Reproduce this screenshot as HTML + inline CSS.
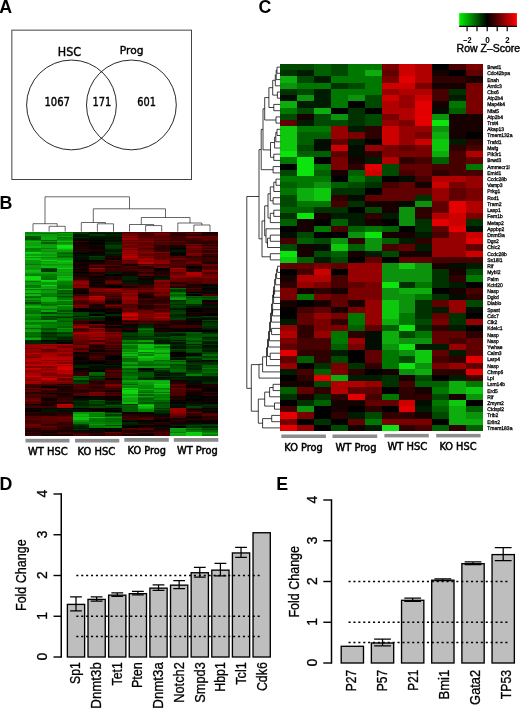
<!DOCTYPE html>
<html lang="en"><head><meta charset="utf-8"><title>Figure</title>
<style>html,body{margin:0;padding:0;background:#fff}svg{display:block}text{font-family:'Liberation Sans', 'DejaVu Sans', sans-serif;fill:#000}.pl{font-weight:bold;font-size:17.8px}.dj{font-family:'DejaVu Sans', 'Liberation Sans', sans-serif}.g{font-size:5.4px}.ln{stroke:#000;fill:none}</style></head><body>
<svg width="520" height="709" viewBox="0 0 520 709">
<rect width="520" height="709" fill="#fff"/>
<text class="pl" x="-0.7" y="12.5">A</text>
<text class="pl" x="-0.45" y="208.7">B</text>
<text class="pl" x="258.4" y="12.9">C</text>
<text class="pl" x="-0.55" y="489.6">D</text>
<text class="pl" x="276.3" y="489.6">E</text>
<g id="venn">
<rect x="11.85" y="30.15" width="179.65" height="149.35" fill="none" stroke="#444" stroke-width="1"/>
<circle cx="71.5" cy="104.95" r="44.9" fill="none" stroke="#111" stroke-width="0.9"/>
<circle cx="131.4" cy="104.95" r="44.9" fill="none" stroke="#111" stroke-width="0.9"/>
<text class="dj" font-size="11.5" x="57.75" y="55.60" textLength="23.25" lengthAdjust="spacingAndGlyphs" stroke="#000" stroke-width="0.4">HSC</text>
<text class="dj" font-size="10.8" x="119.75" y="54.00" textLength="23.75" lengthAdjust="spacingAndGlyphs" stroke="#000" stroke-width="0.4">Prog</text>
<text class="dj" font-size="11.5" x="44.40" y="106.10" textLength="25.60" lengthAdjust="spacingAndGlyphs" stroke="#000" stroke-width="0.4">1067</text>
<text class="dj" font-size="11.5" x="92.40" y="106.10" textLength="18.80" lengthAdjust="spacingAndGlyphs" stroke="#000" stroke-width="0.4">171</text>
<text class="dj" font-size="11.5" x="137.20" y="106.10" textLength="18.70" lengthAdjust="spacingAndGlyphs" stroke="#000" stroke-width="0.4">601</text>
</g>
<g id="bdend" class="ln" stroke="#3a3a3a" stroke-width="0.6">
<path d="M45 223.7V196.8H129.5V208.8"/>
<path d="M93.3 222.5V208.8H165.5V217.5"/>
<path d="M141.3 224.5V217.5H190V223"/>
<path d="M33.0 231.6V223.7H57.2V226.3"/>
<path d="M49.1 231.6V226.3H65.2V231.6"/>
<path d="M81.3 231.6V222.5H105.4V223.8"/>
<path d="M97.4 231.6V223.8H113.5V231.6"/>
<path d="M129.5 231.6V224.5H153.7V225.6"/>
<path d="M145.6 231.6V225.6H161.7V231.6"/>
<path d="M177.8 231.6V223.0H201.9V225.0"/>
<path d="M193.9 231.6V225.0H210.0V231.6"/>
</g>
<defs><filter id="bl" x="-2%" y="-2%" width="104%" height="104%"><feGaussianBlur stdDeviation="0.45"/></filter><filter id="bl2" x="-2%" y="-2%" width="104%" height="104%"><feGaussianBlur stdDeviation="0.4"/></filter></defs>
<g id="bheat" shape-rendering="crispEdges" fill="none" filter="url(#bl)" stroke-width="1.39">
<path d="M25.0 232.27h16.13" stroke="#068c06"/>
<path d="M41.1 232.27h16.13" stroke="#079907"/>
<path d="M57.2 232.27h16.13" stroke="#057405"/>
<path d="M73.2 232.27h16.13" stroke="#024002"/>
<path d="M89.3 232.27h16.13" stroke="#012401"/>
<path d="M105.4 232.27h16.13" stroke="#012e01"/>
<path d="M121.5 232.27h16.13" stroke="#440000"/>
<path d="M137.6 232.27h16.13" stroke="#4d0000"/>
<path d="M153.7 232.27h16.13" stroke="#430000"/>
<path d="M169.8 232.27h16.13" stroke="#470000"/>
<path d="M185.8 232.27h16.13" stroke="#2e0000"/>
<path d="M201.9 232.27h16.13" stroke="#190000"/>
<path d="M25.0 233.60h16.13" stroke="#068406"/>
<path d="M41.1 233.60h16.13" stroke="#046704"/>
<path d="M57.2 233.60h16.13" stroke="#089b08"/>
<path d="M73.2 233.60h16.13" stroke="#013701"/>
<path d="M89.3 233.60h16.13" stroke="#011f01"/>
<path d="M105.4 233.60h16.13" stroke="#000f00"/>
<path d="M121.5 233.60h16.13" stroke="#6a0000"/>
<path d="M137.6 233.60h16.13" stroke="#450000"/>
<path d="M153.7 233.60h16.13" stroke="#880000"/>
<path d="M169.8 233.60h16.13" stroke="#2c0000"/>
<path d="M185.8 233.60h16.13" stroke="#660000"/>
<path d="M201.9 233.60h16.13" stroke="#260000"/>
<path d="M25.0 234.93h16.13" stroke="#079907"/>
<path d="M41.1 234.93h16.13" stroke="#089b08"/>
<path d="M57.2 234.93h16.13" stroke="#068d06"/>
<path d="M73.2 234.93h16.13" stroke="#001500"/>
<path d="M89.3 234.93h16.13" stroke="#023a02"/>
<path d="M105.4 234.93h16.13" stroke="#012201"/>
<path d="M121.5 234.93h16.13" stroke="#6e0000"/>
<path d="M137.6 234.93h16.13" stroke="#430000"/>
<path d="M153.7 234.93h16.13" stroke="#680000"/>
<path d="M169.8 234.93h16.13" stroke="#2d0000"/>
<path d="M185.8 234.93h16.13" stroke="#2d0000"/>
<path d="M201.9 234.93h16.13" stroke="#210000"/>
<path d="M25.0 236.27h16.13" stroke="#035a03"/>
<path d="M41.1 236.27h16.13" stroke="#089d08"/>
<path d="M57.2 236.27h16.13" stroke="#08a608"/>
<path d="M73.2 236.27h16.13" stroke="#001000"/>
<path d="M89.3 236.27h16.13" stroke="#001700"/>
<path d="M105.4 236.27h16.13" stroke="#011f01"/>
<path d="M121.5 236.27h16.13" stroke="#930000"/>
<path d="M137.6 236.27h16.13" stroke="#5a0000"/>
<path d="M153.7 236.27h16.13" stroke="#520000"/>
<path d="M169.8 236.27h16.13" stroke="#3a0000"/>
<path d="M185.8 236.27h16.13" stroke="#660000"/>
<path d="M201.9 236.27h16.13" stroke="#670000"/>
<path d="M25.0 237.60h16.13" stroke="#035703"/>
<path d="M41.1 237.60h16.13" stroke="#09a809"/>
<path d="M57.2 237.60h16.13" stroke="#057405"/>
<path d="M73.2 237.60h16.13" stroke="#012901"/>
<path d="M89.3 237.60h16.13" stroke="#001800"/>
<path d="M105.4 237.60h16.13" stroke="#000800"/>
<path d="M121.5 237.60h16.13" stroke="#630000"/>
<path d="M137.6 237.60h16.13" stroke="#4b0000"/>
<path d="M153.7 237.60h16.13" stroke="#430000"/>
<path d="M169.8 237.60h16.13" stroke="#400000"/>
<path d="M185.8 237.60h16.13" stroke="#780000"/>
<path d="M201.9 237.60h16.13" stroke="#510000"/>
<path d="M25.0 238.93h16.13" stroke="#024d02"/>
<path d="M41.1 238.93h16.13" stroke="#08a608"/>
<path d="M57.2 238.93h16.13" stroke="#068906"/>
<path d="M73.2 238.93h16.13" stroke="#001000"/>
<path d="M89.3 238.93h16.13" stroke="#001000"/>
<path d="M105.4 238.93h16.13" stroke="#001700"/>
<path d="M121.5 238.93h16.13" stroke="#970000"/>
<path d="M137.6 238.93h16.13" stroke="#6c0000"/>
<path d="M153.7 238.93h16.13" stroke="#620000"/>
<path d="M169.8 238.93h16.13" stroke="#400000"/>
<path d="M185.8 238.93h16.13" stroke="#440000"/>
<path d="M201.9 238.93h16.13" stroke="#5b0000"/>
<path d="M25.0 240.27h16.13" stroke="#068c06"/>
<path d="M41.1 240.27h16.13" stroke="#035c03"/>
<path d="M57.2 240.27h16.13" stroke="#079807"/>
<path d="M73.2 240.27h16.13" stroke="#100000"/>
<path d="M89.3 240.27h16.13" stroke="#030000"/>
<path d="M105.4 240.27h16.13" stroke="#000c00"/>
<path d="M121.5 240.27h16.13" stroke="#5a0000"/>
<path d="M137.6 240.27h16.13" stroke="#610000"/>
<path d="M153.7 240.27h16.13" stroke="#350000"/>
<path d="M169.8 240.27h16.13" stroke="#310000"/>
<path d="M185.8 240.27h16.13" stroke="#2d0000"/>
<path d="M201.9 240.27h16.13" stroke="#470000"/>
<path d="M25.0 241.60h16.13" stroke="#0ab40a"/>
<path d="M41.1 241.60h16.13" stroke="#079107"/>
<path d="M57.2 241.60h16.13" stroke="#0aba0a"/>
<path d="M73.2 241.60h16.13" stroke="#370000"/>
<path d="M89.3 241.60h16.13" stroke="#000900"/>
<path d="M105.4 241.60h16.13" stroke="#001700"/>
<path d="M121.5 241.60h16.13" stroke="#810000"/>
<path d="M137.6 241.60h16.13" stroke="#810000"/>
<path d="M153.7 241.60h16.13" stroke="#630000"/>
<path d="M169.8 241.60h16.13" stroke="#660000"/>
<path d="M185.8 241.60h16.13" stroke="#3c0000"/>
<path d="M201.9 241.60h16.13" stroke="#2f0000"/>
<path d="M25.0 242.93h16.13" stroke="#08a208"/>
<path d="M41.1 242.93h16.13" stroke="#046304"/>
<path d="M57.2 242.93h16.13" stroke="#078e07"/>
<path d="M73.2 242.93h16.13" stroke="#080000"/>
<path d="M89.3 242.93h16.13" stroke="#000500"/>
<path d="M105.4 242.93h16.13" stroke="#012301"/>
<path d="M121.5 242.93h16.13" stroke="#690000"/>
<path d="M137.6 242.93h16.13" stroke="#630000"/>
<path d="M153.7 242.93h16.13" stroke="#520000"/>
<path d="M169.8 242.93h16.13" stroke="#3b0000"/>
<path d="M185.8 242.93h16.13" stroke="#290000"/>
<path d="M201.9 242.93h16.13" stroke="#2f0000"/>
<path d="M25.0 244.27h16.13" stroke="#08a108"/>
<path d="M41.1 244.27h16.13" stroke="#079307"/>
<path d="M57.2 244.27h16.13" stroke="#09a809"/>
<path d="M73.2 244.27h16.13" stroke="#150000"/>
<path d="M89.3 244.27h16.13" stroke="#0a0000"/>
<path d="M105.4 244.27h16.13" stroke="#012001"/>
<path d="M121.5 244.27h16.13" stroke="#8a0000"/>
<path d="M137.6 244.27h16.13" stroke="#5c0000"/>
<path d="M153.7 244.27h16.13" stroke="#510000"/>
<path d="M169.8 244.27h16.13" stroke="#480000"/>
<path d="M185.8 244.27h16.13" stroke="#800000"/>
<path d="M201.9 244.27h16.13" stroke="#490000"/>
<path d="M25.0 245.60h16.13" stroke="#08a008"/>
<path d="M41.1 245.60h16.13" stroke="#089f08"/>
<path d="M57.2 245.60h16.13" stroke="#0ee40e"/>
<path d="M73.2 245.60h16.13" stroke="#110000"/>
<path d="M89.3 245.60h16.13" stroke="#000900"/>
<path d="M105.4 245.60h16.13" stroke="#024102"/>
<path d="M121.5 245.60h16.13" stroke="#670000"/>
<path d="M137.6 245.60h16.13" stroke="#640000"/>
<path d="M153.7 245.60h16.13" stroke="#2a0000"/>
<path d="M169.8 245.60h16.13" stroke="#170000"/>
<path d="M185.8 245.60h16.13" stroke="#400000"/>
<path d="M201.9 245.60h16.13" stroke="#1d0000"/>
<path d="M25.0 246.93h16.13" stroke="#0ab60a"/>
<path d="M41.1 246.93h16.13" stroke="#08a208"/>
<path d="M57.2 246.93h16.13" stroke="#0ee40e"/>
<path d="M73.2 246.93h16.13" stroke="#210000"/>
<path d="M89.3 246.93h16.13" stroke="#100000"/>
<path d="M105.4 246.93h16.13" stroke="#023c02"/>
<path d="M121.5 246.93h16.13" stroke="#6b0000"/>
<path d="M137.6 246.93h16.13" stroke="#720000"/>
<path d="M153.7 246.93h16.13" stroke="#2b0000"/>
<path d="M169.8 246.93h16.13" stroke="#1b0000"/>
<path d="M185.8 246.93h16.13" stroke="#7e0000"/>
<path d="M201.9 246.93h16.13" stroke="#580000"/>
<path d="M25.0 248.27h16.13" stroke="#068106"/>
<path d="M41.1 248.27h16.13" stroke="#068006"/>
<path d="M57.2 248.27h16.13" stroke="#0cd20c"/>
<path d="M73.2 248.27h16.13" stroke="#000800"/>
<path d="M89.3 248.27h16.13" stroke="#000000"/>
<path d="M105.4 248.27h16.13" stroke="#013401"/>
<path d="M121.5 248.27h16.13" stroke="#960000"/>
<path d="M137.6 248.27h16.13" stroke="#4c0000"/>
<path d="M153.7 248.27h16.13" stroke="#2b0000"/>
<path d="M169.8 248.27h16.13" stroke="#000100"/>
<path d="M185.8 248.27h16.13" stroke="#660000"/>
<path d="M201.9 248.27h16.13" stroke="#330000"/>
<path d="M25.0 249.60h16.13" stroke="#057c05"/>
<path d="M41.1 249.60h16.13" stroke="#08a208"/>
<path d="M57.2 249.60h16.13" stroke="#09af09"/>
<path d="M73.2 249.60h16.13" stroke="#280000"/>
<path d="M89.3 249.60h16.13" stroke="#200000"/>
<path d="M105.4 249.60h16.13" stroke="#001b00"/>
<path d="M121.5 249.60h16.13" stroke="#6b0000"/>
<path d="M137.6 249.60h16.13" stroke="#5a0000"/>
<path d="M153.7 249.60h16.13" stroke="#350000"/>
<path d="M169.8 249.60h16.13" stroke="#000800"/>
<path d="M185.8 249.60h16.13" stroke="#670000"/>
<path d="M201.9 249.60h16.13" stroke="#600000"/>
<path d="M25.0 250.93h16.13" stroke="#068b06"/>
<path d="M41.1 250.93h16.13" stroke="#079307"/>
<path d="M57.2 250.93h16.13" stroke="#079907"/>
<path d="M73.2 250.93h16.13" stroke="#280000"/>
<path d="M89.3 250.93h16.13" stroke="#1f0000"/>
<path d="M105.4 250.93h16.13" stroke="#001600"/>
<path d="M121.5 250.93h16.13" stroke="#950000"/>
<path d="M137.6 250.93h16.13" stroke="#760000"/>
<path d="M153.7 250.93h16.13" stroke="#390000"/>
<path d="M169.8 250.93h16.13" stroke="#001300"/>
<path d="M185.8 250.93h16.13" stroke="#5a0000"/>
<path d="M201.9 250.93h16.13" stroke="#2b0000"/>
<path d="M25.0 252.27h16.13" stroke="#0dd70d"/>
<path d="M41.1 252.27h16.13" stroke="#09a809"/>
<path d="M57.2 252.27h16.13" stroke="#057805"/>
<path d="M73.2 252.27h16.13" stroke="#000b00"/>
<path d="M89.3 252.27h16.13" stroke="#100000"/>
<path d="M105.4 252.27h16.13" stroke="#012901"/>
<path d="M121.5 252.27h16.13" stroke="#9e0000"/>
<path d="M137.6 252.27h16.13" stroke="#890000"/>
<path d="M153.7 252.27h16.13" stroke="#860000"/>
<path d="M169.8 252.27h16.13" stroke="#000b00"/>
<path d="M185.8 252.27h16.13" stroke="#500000"/>
<path d="M201.9 252.27h16.13" stroke="#390000"/>
<path d="M25.0 253.60h16.13" stroke="#0bc90b"/>
<path d="M41.1 253.60h16.13" stroke="#09ae09"/>
<path d="M57.2 253.60h16.13" stroke="#035e03"/>
<path d="M73.2 253.60h16.13" stroke="#000300"/>
<path d="M89.3 253.60h16.13" stroke="#090000"/>
<path d="M105.4 253.60h16.13" stroke="#012801"/>
<path d="M121.5 253.60h16.13" stroke="#880000"/>
<path d="M137.6 253.60h16.13" stroke="#7a0000"/>
<path d="M153.7 253.60h16.13" stroke="#460000"/>
<path d="M169.8 253.60h16.13" stroke="#000000"/>
<path d="M185.8 253.60h16.13" stroke="#830000"/>
<path d="M201.9 253.60h16.13" stroke="#600000"/>
<path d="M25.0 254.93h16.13" stroke="#089e08"/>
<path d="M41.1 254.93h16.13" stroke="#079907"/>
<path d="M57.2 254.93h16.13" stroke="#057e05"/>
<path d="M73.2 254.93h16.13" stroke="#000700"/>
<path d="M89.3 254.93h16.13" stroke="#000c00"/>
<path d="M105.4 254.93h16.13" stroke="#001600"/>
<path d="M121.5 254.93h16.13" stroke="#a10000"/>
<path d="M137.6 254.93h16.13" stroke="#5d0000"/>
<path d="M153.7 254.93h16.13" stroke="#5d0000"/>
<path d="M169.8 254.93h16.13" stroke="#100000"/>
<path d="M185.8 254.93h16.13" stroke="#750000"/>
<path d="M201.9 254.93h16.13" stroke="#350000"/>
<path d="M25.0 256.27h16.13" stroke="#0ccf0c"/>
<path d="M41.1 256.27h16.13" stroke="#09b209"/>
<path d="M57.2 256.27h16.13" stroke="#046204"/>
<path d="M73.2 256.27h16.13" stroke="#001600"/>
<path d="M89.3 256.27h16.13" stroke="#023c02"/>
<path d="M105.4 256.27h16.13" stroke="#1d0000"/>
<path d="M121.5 256.27h16.13" stroke="#bb0000"/>
<path d="M137.6 256.27h16.13" stroke="#890000"/>
<path d="M153.7 256.27h16.13" stroke="#590000"/>
<path d="M169.8 256.27h16.13" stroke="#500000"/>
<path d="M185.8 256.27h16.13" stroke="#320000"/>
<path d="M201.9 256.27h16.13" stroke="#140000"/>
<path d="M25.0 257.60h16.13" stroke="#078d07"/>
<path d="M41.1 257.60h16.13" stroke="#068c06"/>
<path d="M57.2 257.60h16.13" stroke="#057d05"/>
<path d="M73.2 257.60h16.13" stroke="#000f00"/>
<path d="M89.3 257.60h16.13" stroke="#012a01"/>
<path d="M105.4 257.60h16.13" stroke="#200000"/>
<path d="M121.5 257.60h16.13" stroke="#af0000"/>
<path d="M137.6 257.60h16.13" stroke="#670000"/>
<path d="M153.7 257.60h16.13" stroke="#520000"/>
<path d="M169.8 257.60h16.13" stroke="#3d0000"/>
<path d="M185.8 257.60h16.13" stroke="#3a0000"/>
<path d="M201.9 257.60h16.13" stroke="#3b0000"/>
<path d="M25.0 258.93h16.13" stroke="#0bc40b"/>
<path d="M41.1 258.93h16.13" stroke="#089e08"/>
<path d="M57.2 258.93h16.13" stroke="#079a07"/>
<path d="M73.2 258.93h16.13" stroke="#001000"/>
<path d="M89.3 258.93h16.13" stroke="#012f01"/>
<path d="M105.4 258.93h16.13" stroke="#070000"/>
<path d="M121.5 258.93h16.13" stroke="#9d0000"/>
<path d="M137.6 258.93h16.13" stroke="#9c0000"/>
<path d="M153.7 258.93h16.13" stroke="#5e0000"/>
<path d="M169.8 258.93h16.13" stroke="#6a0000"/>
<path d="M185.8 258.93h16.13" stroke="#4c0000"/>
<path d="M201.9 258.93h16.13" stroke="#370000"/>
<path d="M25.0 260.27h16.13" stroke="#079607"/>
<path d="M41.1 260.27h16.13" stroke="#0dd80d"/>
<path d="M57.2 260.27h16.13" stroke="#0ab60a"/>
<path d="M73.2 260.27h16.13" stroke="#000500"/>
<path d="M89.3 260.27h16.13" stroke="#000000"/>
<path d="M105.4 260.27h16.13" stroke="#4a0000"/>
<path d="M121.5 260.27h16.13" stroke="#4c0000"/>
<path d="M137.6 260.27h16.13" stroke="#940000"/>
<path d="M153.7 260.27h16.13" stroke="#8e0000"/>
<path d="M169.8 260.27h16.13" stroke="#380000"/>
<path d="M185.8 260.27h16.13" stroke="#400000"/>
<path d="M201.9 260.27h16.13" stroke="#360000"/>
<path d="M25.0 261.60h16.13" stroke="#079307"/>
<path d="M41.1 261.60h16.13" stroke="#089b08"/>
<path d="M57.2 261.60h16.13" stroke="#0cd00c"/>
<path d="M73.2 261.60h16.13" stroke="#0d0000"/>
<path d="M89.3 261.60h16.13" stroke="#0e0000"/>
<path d="M105.4 261.60h16.13" stroke="#250000"/>
<path d="M121.5 261.60h16.13" stroke="#780000"/>
<path d="M137.6 261.60h16.13" stroke="#970000"/>
<path d="M153.7 261.60h16.13" stroke="#820000"/>
<path d="M169.8 261.60h16.13" stroke="#470000"/>
<path d="M185.8 261.60h16.13" stroke="#6a0000"/>
<path d="M201.9 261.60h16.13" stroke="#310000"/>
<path d="M25.0 262.93h16.13" stroke="#078f07"/>
<path d="M41.1 262.93h16.13" stroke="#09b109"/>
<path d="M57.2 262.93h16.13" stroke="#09b009"/>
<path d="M73.2 262.93h16.13" stroke="#150000"/>
<path d="M89.3 262.93h16.13" stroke="#1b0000"/>
<path d="M105.4 262.93h16.13" stroke="#370000"/>
<path d="M121.5 262.93h16.13" stroke="#630000"/>
<path d="M137.6 262.93h16.13" stroke="#b80000"/>
<path d="M153.7 262.93h16.13" stroke="#8c0000"/>
<path d="M169.8 262.93h16.13" stroke="#4f0000"/>
<path d="M185.8 262.93h16.13" stroke="#6c0000"/>
<path d="M201.9 262.93h16.13" stroke="#240000"/>
<path d="M25.0 264.27h16.13" stroke="#057a05"/>
<path d="M41.1 264.27h16.13" stroke="#078f07"/>
<path d="M57.2 264.27h16.13" stroke="#079707"/>
<path d="M73.2 264.27h16.13" stroke="#070000"/>
<path d="M89.3 264.27h16.13" stroke="#310000"/>
<path d="M105.4 264.27h16.13" stroke="#310000"/>
<path d="M121.5 264.27h16.13" stroke="#180000"/>
<path d="M137.6 264.27h16.13" stroke="#3a0000"/>
<path d="M153.7 264.27h16.13" stroke="#450000"/>
<path d="M169.8 264.27h16.13" stroke="#580000"/>
<path d="M185.8 264.27h16.13" stroke="#310000"/>
<path d="M201.9 264.27h16.13" stroke="#690000"/>
<path d="M25.0 265.60h16.13" stroke="#079807"/>
<path d="M41.1 265.60h16.13" stroke="#08a008"/>
<path d="M57.2 265.60h16.13" stroke="#08a508"/>
<path d="M73.2 265.60h16.13" stroke="#080000"/>
<path d="M89.3 265.60h16.13" stroke="#680000"/>
<path d="M105.4 265.60h16.13" stroke="#560000"/>
<path d="M121.5 265.60h16.13" stroke="#210000"/>
<path d="M137.6 265.60h16.13" stroke="#6d0000"/>
<path d="M153.7 265.60h16.13" stroke="#5d0000"/>
<path d="M169.8 265.60h16.13" stroke="#4b0000"/>
<path d="M185.8 265.60h16.13" stroke="#3f0000"/>
<path d="M201.9 265.60h16.13" stroke="#640000"/>
<path d="M25.0 266.93h16.13" stroke="#079807"/>
<path d="M41.1 266.93h16.13" stroke="#0ab70a"/>
<path d="M57.2 266.93h16.13" stroke="#09b009"/>
<path d="M73.2 266.93h16.13" stroke="#140000"/>
<path d="M89.3 266.93h16.13" stroke="#370000"/>
<path d="M105.4 266.93h16.13" stroke="#280000"/>
<path d="M121.5 266.93h16.13" stroke="#440000"/>
<path d="M137.6 266.93h16.13" stroke="#2a0000"/>
<path d="M153.7 266.93h16.13" stroke="#680000"/>
<path d="M169.8 266.93h16.13" stroke="#480000"/>
<path d="M185.8 266.93h16.13" stroke="#010000"/>
<path d="M201.9 266.93h16.13" stroke="#400000"/>
<path d="M25.0 268.27h16.13" stroke="#078e07"/>
<path d="M41.1 268.27h16.13" stroke="#034f03"/>
<path d="M57.2 268.27h16.13" stroke="#0cd40c"/>
<path d="M73.2 268.27h16.13" stroke="#280000"/>
<path d="M89.3 268.27h16.13" stroke="#930000"/>
<path d="M105.4 268.27h16.13" stroke="#3e0000"/>
<path d="M121.5 268.27h16.13" stroke="#300000"/>
<path d="M137.6 268.27h16.13" stroke="#250000"/>
<path d="M153.7 268.27h16.13" stroke="#020000"/>
<path d="M169.8 268.27h16.13" stroke="#ac0000"/>
<path d="M185.8 268.27h16.13" stroke="#0f0000"/>
<path d="M201.9 268.27h16.13" stroke="#490000"/>
<path d="M25.0 269.60h16.13" stroke="#089d08"/>
<path d="M41.1 269.60h16.13" stroke="#013601"/>
<path d="M57.2 269.60h16.13" stroke="#079907"/>
<path d="M73.2 269.60h16.13" stroke="#000200"/>
<path d="M89.3 269.60h16.13" stroke="#630000"/>
<path d="M105.4 269.60h16.13" stroke="#3a0000"/>
<path d="M121.5 269.60h16.13" stroke="#510000"/>
<path d="M137.6 269.60h16.13" stroke="#430000"/>
<path d="M153.7 269.60h16.13" stroke="#050000"/>
<path d="M169.8 269.60h16.13" stroke="#750000"/>
<path d="M185.8 269.60h16.13" stroke="#2b0000"/>
<path d="M201.9 269.60h16.13" stroke="#5f0000"/>
<path d="M25.0 270.93h16.13" stroke="#0ab90a"/>
<path d="M41.1 270.93h16.13" stroke="#013401"/>
<path d="M57.2 270.93h16.13" stroke="#08a708"/>
<path d="M73.2 270.93h16.13" stroke="#1c0000"/>
<path d="M89.3 270.93h16.13" stroke="#5e0000"/>
<path d="M105.4 270.93h16.13" stroke="#360000"/>
<path d="M121.5 270.93h16.13" stroke="#2e0000"/>
<path d="M137.6 270.93h16.13" stroke="#4e0000"/>
<path d="M153.7 270.93h16.13" stroke="#1b0000"/>
<path d="M169.8 270.93h16.13" stroke="#8a0000"/>
<path d="M185.8 270.93h16.13" stroke="#210000"/>
<path d="M201.9 270.93h16.13" stroke="#840000"/>
<path d="M25.0 272.27h16.13" stroke="#09a909"/>
<path d="M41.1 272.27h16.13" stroke="#089a08"/>
<path d="M57.2 272.27h16.13" stroke="#079507"/>
<path d="M73.2 272.27h16.13" stroke="#000300"/>
<path d="M89.3 272.27h16.13" stroke="#1a0000"/>
<path d="M105.4 272.27h16.13" stroke="#001500"/>
<path d="M121.5 272.27h16.13" stroke="#000a00"/>
<path d="M137.6 272.27h16.13" stroke="#200000"/>
<path d="M153.7 272.27h16.13" stroke="#280000"/>
<path d="M169.8 272.27h16.13" stroke="#560000"/>
<path d="M185.8 272.27h16.13" stroke="#aa0000"/>
<path d="M201.9 272.27h16.13" stroke="#550000"/>
<path d="M25.0 273.60h16.13" stroke="#079807"/>
<path d="M41.1 273.60h16.13" stroke="#079707"/>
<path d="M57.2 273.60h16.13" stroke="#08a308"/>
<path d="M73.2 273.60h16.13" stroke="#000b00"/>
<path d="M89.3 273.60h16.13" stroke="#230000"/>
<path d="M105.4 273.60h16.13" stroke="#001c00"/>
<path d="M121.5 273.60h16.13" stroke="#170000"/>
<path d="M137.6 273.60h16.13" stroke="#380000"/>
<path d="M153.7 273.60h16.13" stroke="#1f0000"/>
<path d="M169.8 273.60h16.13" stroke="#620000"/>
<path d="M185.8 273.60h16.13" stroke="#b80000"/>
<path d="M201.9 273.60h16.13" stroke="#480000"/>
<path d="M25.0 274.93h16.13" stroke="#068006"/>
<path d="M41.1 274.93h16.13" stroke="#068406"/>
<path d="M57.2 274.93h16.13" stroke="#079807"/>
<path d="M73.2 274.93h16.13" stroke="#1e0000"/>
<path d="M89.3 274.93h16.13" stroke="#2d0000"/>
<path d="M105.4 274.93h16.13" stroke="#000500"/>
<path d="M121.5 274.93h16.13" stroke="#140000"/>
<path d="M137.6 274.93h16.13" stroke="#570000"/>
<path d="M153.7 274.93h16.13" stroke="#2a0000"/>
<path d="M169.8 274.93h16.13" stroke="#7d0000"/>
<path d="M185.8 274.93h16.13" stroke="#a60000"/>
<path d="M201.9 274.93h16.13" stroke="#6e0000"/>
<path d="M25.0 276.27h16.13" stroke="#0cd30c"/>
<path d="M41.1 276.27h16.13" stroke="#057205"/>
<path d="M57.2 276.27h16.13" stroke="#0aba0a"/>
<path d="M73.2 276.27h16.13" stroke="#1c0000"/>
<path d="M89.3 276.27h16.13" stroke="#030000"/>
<path d="M105.4 276.27h16.13" stroke="#2e0000"/>
<path d="M121.5 276.27h16.13" stroke="#012101"/>
<path d="M137.6 276.27h16.13" stroke="#000500"/>
<path d="M153.7 276.27h16.13" stroke="#001900"/>
<path d="M169.8 276.27h16.13" stroke="#970000"/>
<path d="M185.8 276.27h16.13" stroke="#990000"/>
<path d="M201.9 276.27h16.13" stroke="#710000"/>
<path d="M25.0 277.60h16.13" stroke="#0ddd0d"/>
<path d="M41.1 277.60h16.13" stroke="#057905"/>
<path d="M57.2 277.60h16.13" stroke="#09a709"/>
<path d="M73.2 277.60h16.13" stroke="#320000"/>
<path d="M89.3 277.60h16.13" stroke="#080000"/>
<path d="M105.4 277.60h16.13" stroke="#1a0000"/>
<path d="M121.5 277.60h16.13" stroke="#012101"/>
<path d="M137.6 277.60h16.13" stroke="#260000"/>
<path d="M153.7 277.60h16.13" stroke="#110000"/>
<path d="M169.8 277.60h16.13" stroke="#810000"/>
<path d="M185.8 277.60h16.13" stroke="#6a0000"/>
<path d="M201.9 277.60h16.13" stroke="#870000"/>
<path d="M25.0 278.93h16.13" stroke="#0ddb0d"/>
<path d="M41.1 278.93h16.13" stroke="#057105"/>
<path d="M57.2 278.93h16.13" stroke="#0abe0a"/>
<path d="M73.2 278.93h16.13" stroke="#2c0000"/>
<path d="M89.3 278.93h16.13" stroke="#1c0000"/>
<path d="M105.4 278.93h16.13" stroke="#1e0000"/>
<path d="M121.5 278.93h16.13" stroke="#012401"/>
<path d="M137.6 278.93h16.13" stroke="#090000"/>
<path d="M153.7 278.93h16.13" stroke="#011d01"/>
<path d="M169.8 278.93h16.13" stroke="#6b0000"/>
<path d="M185.8 278.93h16.13" stroke="#5f0000"/>
<path d="M201.9 278.93h16.13" stroke="#5d0000"/>
<path d="M25.0 280.27h16.13" stroke="#0abb0a"/>
<path d="M41.1 280.27h16.13" stroke="#0dd70d"/>
<path d="M57.2 280.27h16.13" stroke="#08a608"/>
<path d="M73.2 280.27h16.13" stroke="#690000"/>
<path d="M89.3 280.27h16.13" stroke="#0e0000"/>
<path d="M105.4 280.27h16.13" stroke="#4e0000"/>
<path d="M121.5 280.27h16.13" stroke="#001900"/>
<path d="M137.6 280.27h16.13" stroke="#000d00"/>
<path d="M153.7 280.27h16.13" stroke="#8d0000"/>
<path d="M169.8 280.27h16.13" stroke="#680000"/>
<path d="M185.8 280.27h16.13" stroke="#5c0000"/>
<path d="M201.9 280.27h16.13" stroke="#580000"/>
<path d="M25.0 281.60h16.13" stroke="#057405"/>
<path d="M41.1 281.60h16.13" stroke="#0ccd0c"/>
<path d="M57.2 281.60h16.13" stroke="#068706"/>
<path d="M73.2 281.60h16.13" stroke="#880000"/>
<path d="M89.3 281.60h16.13" stroke="#000a00"/>
<path d="M105.4 281.60h16.13" stroke="#640000"/>
<path d="M121.5 281.60h16.13" stroke="#001100"/>
<path d="M137.6 281.60h16.13" stroke="#000e00"/>
<path d="M153.7 281.60h16.13" stroke="#8f0000"/>
<path d="M169.8 281.60h16.13" stroke="#630000"/>
<path d="M185.8 281.60h16.13" stroke="#4a0000"/>
<path d="M201.9 281.60h16.13" stroke="#660000"/>
<path d="M25.0 282.93h16.13" stroke="#079707"/>
<path d="M41.1 282.93h16.13" stroke="#079707"/>
<path d="M57.2 282.93h16.13" stroke="#068106"/>
<path d="M73.2 282.93h16.13" stroke="#960000"/>
<path d="M89.3 282.93h16.13" stroke="#0e0000"/>
<path d="M105.4 282.93h16.13" stroke="#690000"/>
<path d="M121.5 282.93h16.13" stroke="#001c00"/>
<path d="M137.6 282.93h16.13" stroke="#000b00"/>
<path d="M153.7 282.93h16.13" stroke="#690000"/>
<path d="M169.8 282.93h16.13" stroke="#2b0000"/>
<path d="M185.8 282.93h16.13" stroke="#4a0000"/>
<path d="M201.9 282.93h16.13" stroke="#5a0000"/>
<path d="M25.0 284.27h16.13" stroke="#089c08"/>
<path d="M41.1 284.27h16.13" stroke="#079707"/>
<path d="M57.2 284.27h16.13" stroke="#057a05"/>
<path d="M73.2 284.27h16.13" stroke="#870000"/>
<path d="M89.3 284.27h16.13" stroke="#260000"/>
<path d="M105.4 284.27h16.13" stroke="#2a0000"/>
<path d="M121.5 284.27h16.13" stroke="#340000"/>
<path d="M137.6 284.27h16.13" stroke="#290000"/>
<path d="M153.7 284.27h16.13" stroke="#7a0000"/>
<path d="M169.8 284.27h16.13" stroke="#460000"/>
<path d="M185.8 284.27h16.13" stroke="#1e0000"/>
<path d="M201.9 284.27h16.13" stroke="#0b0000"/>
<path d="M25.0 285.60h16.13" stroke="#057305"/>
<path d="M41.1 285.60h16.13" stroke="#0cd40c"/>
<path d="M57.2 285.60h16.13" stroke="#046e04"/>
<path d="M73.2 285.60h16.13" stroke="#6b0000"/>
<path d="M89.3 285.60h16.13" stroke="#040000"/>
<path d="M105.4 285.60h16.13" stroke="#0f0000"/>
<path d="M121.5 285.60h16.13" stroke="#450000"/>
<path d="M137.6 285.60h16.13" stroke="#370000"/>
<path d="M153.7 285.60h16.13" stroke="#760000"/>
<path d="M169.8 285.60h16.13" stroke="#560000"/>
<path d="M185.8 285.60h16.13" stroke="#1e0000"/>
<path d="M201.9 285.60h16.13" stroke="#020000"/>
<path d="M25.0 286.93h16.13" stroke="#068006"/>
<path d="M41.1 286.93h16.13" stroke="#08a308"/>
<path d="M57.2 286.93h16.13" stroke="#046b04"/>
<path d="M73.2 286.93h16.13" stroke="#860000"/>
<path d="M89.3 286.93h16.13" stroke="#270000"/>
<path d="M105.4 286.93h16.13" stroke="#040000"/>
<path d="M121.5 286.93h16.13" stroke="#1d0000"/>
<path d="M137.6 286.93h16.13" stroke="#3b0000"/>
<path d="M153.7 286.93h16.13" stroke="#760000"/>
<path d="M169.8 286.93h16.13" stroke="#270000"/>
<path d="M185.8 286.93h16.13" stroke="#220000"/>
<path d="M201.9 286.93h16.13" stroke="#000c00"/>
<path d="M25.0 288.27h16.13" stroke="#0aba0a"/>
<path d="M41.1 288.27h16.13" stroke="#09a909"/>
<path d="M57.2 288.27h16.13" stroke="#057205"/>
<path d="M73.2 288.27h16.13" stroke="#2b0000"/>
<path d="M89.3 288.27h16.13" stroke="#710000"/>
<path d="M105.4 288.27h16.13" stroke="#6d0000"/>
<path d="M121.5 288.27h16.13" stroke="#650000"/>
<path d="M137.6 288.27h16.13" stroke="#620000"/>
<path d="M153.7 288.27h16.13" stroke="#940000"/>
<path d="M169.8 288.27h16.13" stroke="#046a04"/>
<path d="M185.8 288.27h16.13" stroke="#500000"/>
<path d="M201.9 288.27h16.13" stroke="#000400"/>
<path d="M25.0 289.60h16.13" stroke="#057405"/>
<path d="M41.1 289.60h16.13" stroke="#057705"/>
<path d="M57.2 289.60h16.13" stroke="#08a308"/>
<path d="M73.2 289.60h16.13" stroke="#1b0000"/>
<path d="M89.3 289.60h16.13" stroke="#7c0000"/>
<path d="M105.4 289.60h16.13" stroke="#a00000"/>
<path d="M121.5 289.60h16.13" stroke="#610000"/>
<path d="M137.6 289.60h16.13" stroke="#530000"/>
<path d="M153.7 289.60h16.13" stroke="#800000"/>
<path d="M169.8 289.60h16.13" stroke="#013401"/>
<path d="M185.8 289.60h16.13" stroke="#210000"/>
<path d="M201.9 289.60h16.13" stroke="#0e0000"/>
<path d="M25.0 290.93h16.13" stroke="#0ab30a"/>
<path d="M41.1 290.93h16.13" stroke="#079607"/>
<path d="M57.2 290.93h16.13" stroke="#035f03"/>
<path d="M73.2 290.93h16.13" stroke="#070000"/>
<path d="M89.3 290.93h16.13" stroke="#7c0000"/>
<path d="M105.4 290.93h16.13" stroke="#7e0000"/>
<path d="M121.5 290.93h16.13" stroke="#810000"/>
<path d="M137.6 290.93h16.13" stroke="#730000"/>
<path d="M153.7 290.93h16.13" stroke="#820000"/>
<path d="M169.8 290.93h16.13" stroke="#013601"/>
<path d="M185.8 290.93h16.13" stroke="#340000"/>
<path d="M201.9 290.93h16.13" stroke="#000b00"/>
<path d="M25.0 292.27h16.13" stroke="#0abe0a"/>
<path d="M41.1 292.27h16.13" stroke="#079807"/>
<path d="M57.2 292.27h16.13" stroke="#046a04"/>
<path d="M73.2 292.27h16.13" stroke="#110000"/>
<path d="M89.3 292.27h16.13" stroke="#4a0000"/>
<path d="M105.4 292.27h16.13" stroke="#590000"/>
<path d="M121.5 292.27h16.13" stroke="#6f0000"/>
<path d="M137.6 292.27h16.13" stroke="#4d0000"/>
<path d="M153.7 292.27h16.13" stroke="#580000"/>
<path d="M169.8 292.27h16.13" stroke="#046d04"/>
<path d="M185.8 292.27h16.13" stroke="#000500"/>
<path d="M201.9 292.27h16.13" stroke="#1b0000"/>
<path d="M25.0 293.60h16.13" stroke="#057805"/>
<path d="M41.1 293.60h16.13" stroke="#068806"/>
<path d="M57.2 293.60h16.13" stroke="#024b02"/>
<path d="M73.2 293.60h16.13" stroke="#100000"/>
<path d="M89.3 293.60h16.13" stroke="#5b0000"/>
<path d="M105.4 293.60h16.13" stroke="#5c0000"/>
<path d="M121.5 293.60h16.13" stroke="#a30000"/>
<path d="M137.6 293.60h16.13" stroke="#3b0000"/>
<path d="M153.7 293.60h16.13" stroke="#730000"/>
<path d="M169.8 293.60h16.13" stroke="#068406"/>
<path d="M185.8 293.60h16.13" stroke="#012001"/>
<path d="M201.9 293.60h16.13" stroke="#160000"/>
<path d="M25.0 294.93h16.13" stroke="#0ab60a"/>
<path d="M41.1 294.93h16.13" stroke="#057f05"/>
<path d="M57.2 294.93h16.13" stroke="#057605"/>
<path d="M73.2 294.93h16.13" stroke="#3c0000"/>
<path d="M89.3 294.93h16.13" stroke="#520000"/>
<path d="M105.4 294.93h16.13" stroke="#530000"/>
<path d="M121.5 294.93h16.13" stroke="#7e0000"/>
<path d="M137.6 294.93h16.13" stroke="#1f0000"/>
<path d="M153.7 294.93h16.13" stroke="#740000"/>
<path d="M169.8 294.93h16.13" stroke="#035e03"/>
<path d="M185.8 294.93h16.13" stroke="#000300"/>
<path d="M201.9 294.93h16.13" stroke="#4a0000"/>
<path d="M25.0 296.27h16.13" stroke="#057505"/>
<path d="M41.1 296.27h16.13" stroke="#057905"/>
<path d="M57.2 296.27h16.13" stroke="#024902"/>
<path d="M73.2 296.27h16.13" stroke="#680000"/>
<path d="M89.3 296.27h16.13" stroke="#c10000"/>
<path d="M105.4 296.27h16.13" stroke="#2c0000"/>
<path d="M121.5 296.27h16.13" stroke="#8f0000"/>
<path d="M137.6 296.27h16.13" stroke="#1b0000"/>
<path d="M153.7 296.27h16.13" stroke="#460000"/>
<path d="M169.8 296.27h16.13" stroke="#057405"/>
<path d="M185.8 296.27h16.13" stroke="#035f03"/>
<path d="M201.9 296.27h16.13" stroke="#035803"/>
<path d="M25.0 297.60h16.13" stroke="#046004"/>
<path d="M41.1 297.60h16.13" stroke="#0ab40a"/>
<path d="M57.2 297.60h16.13" stroke="#046904"/>
<path d="M73.2 297.60h16.13" stroke="#590000"/>
<path d="M89.3 297.60h16.13" stroke="#a00000"/>
<path d="M105.4 297.60h16.13" stroke="#5d0000"/>
<path d="M121.5 297.60h16.13" stroke="#a10000"/>
<path d="M137.6 297.60h16.13" stroke="#0f0000"/>
<path d="M153.7 297.60h16.13" stroke="#3f0000"/>
<path d="M169.8 297.60h16.13" stroke="#078d07"/>
<path d="M185.8 297.60h16.13" stroke="#024c02"/>
<path d="M201.9 297.60h16.13" stroke="#024102"/>
<path d="M25.0 298.93h16.13" stroke="#079707"/>
<path d="M41.1 298.93h16.13" stroke="#09b209"/>
<path d="M57.2 298.93h16.13" stroke="#057c05"/>
<path d="M73.2 298.93h16.13" stroke="#820000"/>
<path d="M89.3 298.93h16.13" stroke="#b00000"/>
<path d="M105.4 298.93h16.13" stroke="#380000"/>
<path d="M121.5 298.93h16.13" stroke="#9c0000"/>
<path d="M137.6 298.93h16.13" stroke="#400000"/>
<path d="M153.7 298.93h16.13" stroke="#310000"/>
<path d="M169.8 298.93h16.13" stroke="#079a07"/>
<path d="M185.8 298.93h16.13" stroke="#046504"/>
<path d="M201.9 298.93h16.13" stroke="#035503"/>
<path d="M25.0 300.27h16.13" stroke="#057205"/>
<path d="M41.1 300.27h16.13" stroke="#0ab70a"/>
<path d="M57.2 300.27h16.13" stroke="#09ac09"/>
<path d="M73.2 300.27h16.13" stroke="#530000"/>
<path d="M89.3 300.27h16.13" stroke="#820000"/>
<path d="M105.4 300.27h16.13" stroke="#220000"/>
<path d="M121.5 300.27h16.13" stroke="#770000"/>
<path d="M137.6 300.27h16.13" stroke="#2e0000"/>
<path d="M153.7 300.27h16.13" stroke="#2f0000"/>
<path d="M169.8 300.27h16.13" stroke="#012501"/>
<path d="M185.8 300.27h16.13" stroke="#047004"/>
<path d="M201.9 300.27h16.13" stroke="#000000"/>
<path d="M25.0 301.60h16.13" stroke="#068606"/>
<path d="M41.1 301.60h16.13" stroke="#09a909"/>
<path d="M57.2 301.60h16.13" stroke="#057505"/>
<path d="M73.2 301.60h16.13" stroke="#490000"/>
<path d="M89.3 301.60h16.13" stroke="#7d0000"/>
<path d="M105.4 301.60h16.13" stroke="#110000"/>
<path d="M121.5 301.60h16.13" stroke="#7f0000"/>
<path d="M137.6 301.60h16.13" stroke="#210000"/>
<path d="M153.7 301.60h16.13" stroke="#250000"/>
<path d="M169.8 301.60h16.13" stroke="#013501"/>
<path d="M185.8 301.60h16.13" stroke="#046e04"/>
<path d="M201.9 301.60h16.13" stroke="#060000"/>
<path d="M25.0 302.93h16.13" stroke="#024802"/>
<path d="M41.1 302.93h16.13" stroke="#057e05"/>
<path d="M57.2 302.93h16.13" stroke="#057c05"/>
<path d="M73.2 302.93h16.13" stroke="#420000"/>
<path d="M89.3 302.93h16.13" stroke="#5a0000"/>
<path d="M105.4 302.93h16.13" stroke="#160000"/>
<path d="M121.5 302.93h16.13" stroke="#820000"/>
<path d="M137.6 302.93h16.13" stroke="#330000"/>
<path d="M153.7 302.93h16.13" stroke="#3b0000"/>
<path d="M169.8 302.93h16.13" stroke="#024502"/>
<path d="M185.8 302.93h16.13" stroke="#046e04"/>
<path d="M201.9 302.93h16.13" stroke="#240000"/>
<path d="M25.0 304.27h16.13" stroke="#067f06"/>
<path d="M41.1 304.27h16.13" stroke="#046504"/>
<path d="M57.2 304.27h16.13" stroke="#046604"/>
<path d="M73.2 304.27h16.13" stroke="#520000"/>
<path d="M89.3 304.27h16.13" stroke="#120000"/>
<path d="M105.4 304.27h16.13" stroke="#4b0000"/>
<path d="M121.5 304.27h16.13" stroke="#4e0000"/>
<path d="M137.6 304.27h16.13" stroke="#410000"/>
<path d="M153.7 304.27h16.13" stroke="#6c0000"/>
<path d="M169.8 304.27h16.13" stroke="#012d01"/>
<path d="M185.8 304.27h16.13" stroke="#013101"/>
<path d="M201.9 304.27h16.13" stroke="#000e00"/>
<path d="M25.0 305.60h16.13" stroke="#089b08"/>
<path d="M41.1 305.60h16.13" stroke="#057b05"/>
<path d="M57.2 305.60h16.13" stroke="#09ac09"/>
<path d="M73.2 305.60h16.13" stroke="#790000"/>
<path d="M89.3 305.60h16.13" stroke="#1a0000"/>
<path d="M105.4 305.60h16.13" stroke="#830000"/>
<path d="M121.5 305.60h16.13" stroke="#570000"/>
<path d="M137.6 305.60h16.13" stroke="#270000"/>
<path d="M153.7 305.60h16.13" stroke="#320000"/>
<path d="M169.8 305.60h16.13" stroke="#024a02"/>
<path d="M185.8 305.60h16.13" stroke="#013201"/>
<path d="M201.9 305.60h16.13" stroke="#001100"/>
<path d="M25.0 306.93h16.13" stroke="#0ab50a"/>
<path d="M41.1 306.93h16.13" stroke="#089f08"/>
<path d="M57.2 306.93h16.13" stroke="#068706"/>
<path d="M73.2 306.93h16.13" stroke="#6a0000"/>
<path d="M89.3 306.93h16.13" stroke="#240000"/>
<path d="M105.4 306.93h16.13" stroke="#500000"/>
<path d="M121.5 306.93h16.13" stroke="#530000"/>
<path d="M137.6 306.93h16.13" stroke="#140000"/>
<path d="M153.7 306.93h16.13" stroke="#3e0000"/>
<path d="M169.8 306.93h16.13" stroke="#023d02"/>
<path d="M185.8 306.93h16.13" stroke="#011f01"/>
<path d="M201.9 306.93h16.13" stroke="#001400"/>
<path d="M25.0 308.27h16.13" stroke="#057b05"/>
<path d="M41.1 308.27h16.13" stroke="#079907"/>
<path d="M57.2 308.27h16.13" stroke="#057a05"/>
<path d="M73.2 308.27h16.13" stroke="#0e0000"/>
<path d="M89.3 308.27h16.13" stroke="#260000"/>
<path d="M105.4 308.27h16.13" stroke="#160000"/>
<path d="M121.5 308.27h16.13" stroke="#560000"/>
<path d="M137.6 308.27h16.13" stroke="#2b0000"/>
<path d="M153.7 308.27h16.13" stroke="#4c0000"/>
<path d="M169.8 308.27h16.13" stroke="#011d01"/>
<path d="M185.8 308.27h16.13" stroke="#040000"/>
<path d="M201.9 308.27h16.13" stroke="#0e0000"/>
<path d="M25.0 309.60h16.13" stroke="#068b06"/>
<path d="M41.1 309.60h16.13" stroke="#057805"/>
<path d="M57.2 309.60h16.13" stroke="#057a05"/>
<path d="M73.2 309.60h16.13" stroke="#020000"/>
<path d="M89.3 309.60h16.13" stroke="#000000"/>
<path d="M105.4 309.60h16.13" stroke="#040000"/>
<path d="M121.5 309.60h16.13" stroke="#720000"/>
<path d="M137.6 309.60h16.13" stroke="#370000"/>
<path d="M153.7 309.60h16.13" stroke="#620000"/>
<path d="M169.8 309.60h16.13" stroke="#001900"/>
<path d="M185.8 309.60h16.13" stroke="#090000"/>
<path d="M201.9 309.60h16.13" stroke="#0b0000"/>
<path d="M25.0 310.93h16.13" stroke="#057505"/>
<path d="M41.1 310.93h16.13" stroke="#08a608"/>
<path d="M57.2 310.93h16.13" stroke="#035103"/>
<path d="M73.2 310.93h16.13" stroke="#0d0000"/>
<path d="M89.3 310.93h16.13" stroke="#000300"/>
<path d="M105.4 310.93h16.13" stroke="#190000"/>
<path d="M121.5 310.93h16.13" stroke="#550000"/>
<path d="M137.6 310.93h16.13" stroke="#6d0000"/>
<path d="M153.7 310.93h16.13" stroke="#4c0000"/>
<path d="M169.8 310.93h16.13" stroke="#023902"/>
<path d="M185.8 310.93h16.13" stroke="#000300"/>
<path d="M201.9 310.93h16.13" stroke="#190000"/>
<path d="M25.0 312.27h16.13" stroke="#057305"/>
<path d="M41.1 312.27h16.13" stroke="#024802"/>
<path d="M57.2 312.27h16.13" stroke="#068006"/>
<path d="M73.2 312.27h16.13" stroke="#024102"/>
<path d="M89.3 312.27h16.13" stroke="#012401"/>
<path d="M105.4 312.27h16.13" stroke="#000100"/>
<path d="M121.5 312.27h16.13" stroke="#940000"/>
<path d="M137.6 312.27h16.13" stroke="#740000"/>
<path d="M153.7 312.27h16.13" stroke="#750000"/>
<path d="M169.8 312.27h16.13" stroke="#024102"/>
<path d="M185.8 312.27h16.13" stroke="#220000"/>
<path d="M201.9 312.27h16.13" stroke="#210000"/>
<path d="M25.0 313.60h16.13" stroke="#046e04"/>
<path d="M41.1 313.60h16.13" stroke="#024502"/>
<path d="M57.2 313.60h16.13" stroke="#024a02"/>
<path d="M73.2 313.60h16.13" stroke="#024502"/>
<path d="M89.3 313.60h16.13" stroke="#012501"/>
<path d="M105.4 313.60h16.13" stroke="#000200"/>
<path d="M121.5 313.60h16.13" stroke="#c30000"/>
<path d="M137.6 313.60h16.13" stroke="#730000"/>
<path d="M153.7 313.60h16.13" stroke="#a30000"/>
<path d="M169.8 313.60h16.13" stroke="#024202"/>
<path d="M185.8 313.60h16.13" stroke="#020000"/>
<path d="M201.9 313.60h16.13" stroke="#000000"/>
<path d="M25.0 314.93h16.13" stroke="#079707"/>
<path d="M41.1 314.93h16.13" stroke="#068b06"/>
<path d="M57.2 314.93h16.13" stroke="#057605"/>
<path d="M73.2 314.93h16.13" stroke="#024402"/>
<path d="M89.3 314.93h16.13" stroke="#000100"/>
<path d="M105.4 314.93h16.13" stroke="#012901"/>
<path d="M121.5 314.93h16.13" stroke="#d40000"/>
<path d="M137.6 314.93h16.13" stroke="#800000"/>
<path d="M153.7 314.93h16.13" stroke="#8b0000"/>
<path d="M169.8 314.93h16.13" stroke="#012701"/>
<path d="M185.8 314.93h16.13" stroke="#1d0000"/>
<path d="M201.9 314.93h16.13" stroke="#050000"/>
<path d="M25.0 316.27h16.13" stroke="#068706"/>
<path d="M41.1 316.27h16.13" stroke="#023c02"/>
<path d="M57.2 316.27h16.13" stroke="#035903"/>
<path d="M73.2 316.27h16.13" stroke="#012101"/>
<path d="M89.3 316.27h16.13" stroke="#034e03"/>
<path d="M105.4 316.27h16.13" stroke="#000b00"/>
<path d="M121.5 316.27h16.13" stroke="#b50000"/>
<path d="M137.6 316.27h16.13" stroke="#730000"/>
<path d="M153.7 316.27h16.13" stroke="#8f0000"/>
<path d="M169.8 316.27h16.13" stroke="#012801"/>
<path d="M185.8 316.27h16.13" stroke="#001800"/>
<path d="M201.9 316.27h16.13" stroke="#024202"/>
<path d="M25.0 317.60h16.13" stroke="#068806"/>
<path d="M41.1 317.60h16.13" stroke="#035703"/>
<path d="M57.2 317.60h16.13" stroke="#013501"/>
<path d="M73.2 317.60h16.13" stroke="#024a02"/>
<path d="M89.3 317.60h16.13" stroke="#012b01"/>
<path d="M105.4 317.60h16.13" stroke="#0d0000"/>
<path d="M121.5 317.60h16.13" stroke="#8a0000"/>
<path d="M137.6 317.60h16.13" stroke="#850000"/>
<path d="M153.7 317.60h16.13" stroke="#b90000"/>
<path d="M169.8 317.60h16.13" stroke="#013301"/>
<path d="M185.8 317.60h16.13" stroke="#013501"/>
<path d="M201.9 317.60h16.13" stroke="#001a00"/>
<path d="M25.0 318.93h16.13" stroke="#057405"/>
<path d="M41.1 318.93h16.13" stroke="#024902"/>
<path d="M57.2 318.93h16.13" stroke="#057205"/>
<path d="M73.2 318.93h16.13" stroke="#012b01"/>
<path d="M89.3 318.93h16.13" stroke="#012201"/>
<path d="M105.4 318.93h16.13" stroke="#000100"/>
<path d="M121.5 318.93h16.13" stroke="#b80000"/>
<path d="M137.6 318.93h16.13" stroke="#720000"/>
<path d="M153.7 318.93h16.13" stroke="#820000"/>
<path d="M169.8 318.93h16.13" stroke="#023c02"/>
<path d="M185.8 318.93h16.13" stroke="#000e00"/>
<path d="M201.9 318.93h16.13" stroke="#000e00"/>
<path d="M25.0 320.27h16.13" stroke="#08a008"/>
<path d="M41.1 320.27h16.13" stroke="#09ab09"/>
<path d="M57.2 320.27h16.13" stroke="#046c04"/>
<path d="M73.2 320.27h16.13" stroke="#4c0000"/>
<path d="M89.3 320.27h16.13" stroke="#3b0000"/>
<path d="M105.4 320.27h16.13" stroke="#000500"/>
<path d="M121.5 320.27h16.13" stroke="#4a0000"/>
<path d="M137.6 320.27h16.13" stroke="#5d0000"/>
<path d="M153.7 320.27h16.13" stroke="#630000"/>
<path d="M169.8 320.27h16.13" stroke="#300000"/>
<path d="M185.8 320.27h16.13" stroke="#0f0000"/>
<path d="M201.9 320.27h16.13" stroke="#024502"/>
<path d="M25.0 321.60h16.13" stroke="#08a508"/>
<path d="M41.1 321.60h16.13" stroke="#08a208"/>
<path d="M57.2 321.60h16.13" stroke="#035303"/>
<path d="M73.2 321.60h16.13" stroke="#2e0000"/>
<path d="M89.3 321.60h16.13" stroke="#0b0000"/>
<path d="M105.4 321.60h16.13" stroke="#190000"/>
<path d="M121.5 321.60h16.13" stroke="#230000"/>
<path d="M137.6 321.60h16.13" stroke="#2d0000"/>
<path d="M153.7 321.60h16.13" stroke="#2b0000"/>
<path d="M169.8 321.60h16.13" stroke="#210000"/>
<path d="M185.8 321.60h16.13" stroke="#000000"/>
<path d="M201.9 321.60h16.13" stroke="#011e01"/>
<path d="M25.0 322.93h16.13" stroke="#057b05"/>
<path d="M41.1 322.93h16.13" stroke="#057405"/>
<path d="M57.2 322.93h16.13" stroke="#057805"/>
<path d="M73.2 322.93h16.13" stroke="#2f0000"/>
<path d="M89.3 322.93h16.13" stroke="#050000"/>
<path d="M105.4 322.93h16.13" stroke="#090000"/>
<path d="M121.5 322.93h16.13" stroke="#430000"/>
<path d="M137.6 322.93h16.13" stroke="#480000"/>
<path d="M153.7 322.93h16.13" stroke="#390000"/>
<path d="M169.8 322.93h16.13" stroke="#190000"/>
<path d="M185.8 322.93h16.13" stroke="#100000"/>
<path d="M201.9 322.93h16.13" stroke="#013001"/>
<path d="M25.0 324.27h16.13" stroke="#068506"/>
<path d="M41.1 324.27h16.13" stroke="#057e05"/>
<path d="M57.2 324.27h16.13" stroke="#057305"/>
<path d="M73.2 324.27h16.13" stroke="#610000"/>
<path d="M89.3 324.27h16.13" stroke="#7e0000"/>
<path d="M105.4 324.27h16.13" stroke="#110000"/>
<path d="M121.5 324.27h16.13" stroke="#0d0000"/>
<path d="M137.6 324.27h16.13" stroke="#001b00"/>
<path d="M153.7 324.27h16.13" stroke="#180000"/>
<path d="M169.8 324.27h16.13" stroke="#200000"/>
<path d="M185.8 324.27h16.13" stroke="#0e0000"/>
<path d="M201.9 324.27h16.13" stroke="#013601"/>
<path d="M25.0 325.60h16.13" stroke="#09b209"/>
<path d="M41.1 325.60h16.13" stroke="#057b05"/>
<path d="M57.2 325.60h16.13" stroke="#057905"/>
<path d="M73.2 325.60h16.13" stroke="#700000"/>
<path d="M89.3 325.60h16.13" stroke="#5d0000"/>
<path d="M105.4 325.60h16.13" stroke="#400000"/>
<path d="M121.5 325.60h16.13" stroke="#090000"/>
<path d="M137.6 325.60h16.13" stroke="#012301"/>
<path d="M153.7 325.60h16.13" stroke="#1c0000"/>
<path d="M169.8 325.60h16.13" stroke="#3f0000"/>
<path d="M185.8 325.60h16.13" stroke="#400000"/>
<path d="M201.9 325.60h16.13" stroke="#023e02"/>
<path d="M25.0 326.93h16.13" stroke="#079907"/>
<path d="M41.1 326.93h16.13" stroke="#068006"/>
<path d="M57.2 326.93h16.13" stroke="#046604"/>
<path d="M73.2 326.93h16.13" stroke="#9c0000"/>
<path d="M89.3 326.93h16.13" stroke="#430000"/>
<path d="M105.4 326.93h16.13" stroke="#110000"/>
<path d="M121.5 326.93h16.13" stroke="#000700"/>
<path d="M137.6 326.93h16.13" stroke="#012501"/>
<path d="M153.7 326.93h16.13" stroke="#270000"/>
<path d="M169.8 326.93h16.13" stroke="#3a0000"/>
<path d="M185.8 326.93h16.13" stroke="#3b0000"/>
<path d="M201.9 326.93h16.13" stroke="#012e01"/>
<path d="M25.0 328.27h16.13" stroke="#046504"/>
<path d="M41.1 328.27h16.13" stroke="#035303"/>
<path d="M57.2 328.27h16.13" stroke="#079007"/>
<path d="M73.2 328.27h16.13" stroke="#600000"/>
<path d="M89.3 328.27h16.13" stroke="#9f0000"/>
<path d="M105.4 328.27h16.13" stroke="#300000"/>
<path d="M121.5 328.27h16.13" stroke="#240000"/>
<path d="M137.6 328.27h16.13" stroke="#035e03"/>
<path d="M153.7 328.27h16.13" stroke="#0c0000"/>
<path d="M169.8 328.27h16.13" stroke="#150000"/>
<path d="M185.8 328.27h16.13" stroke="#000600"/>
<path d="M201.9 328.27h16.13" stroke="#012401"/>
<path d="M25.0 329.60h16.13" stroke="#079107"/>
<path d="M41.1 329.60h16.13" stroke="#024902"/>
<path d="M57.2 329.60h16.13" stroke="#057405"/>
<path d="M73.2 329.60h16.13" stroke="#370000"/>
<path d="M89.3 329.60h16.13" stroke="#590000"/>
<path d="M105.4 329.60h16.13" stroke="#400000"/>
<path d="M121.5 329.60h16.13" stroke="#2a0000"/>
<path d="M137.6 329.60h16.13" stroke="#057d05"/>
<path d="M153.7 329.60h16.13" stroke="#120000"/>
<path d="M169.8 329.60h16.13" stroke="#0b0000"/>
<path d="M185.8 329.60h16.13" stroke="#1b0000"/>
<path d="M201.9 329.60h16.13" stroke="#001200"/>
<path d="M25.0 330.93h16.13" stroke="#089f08"/>
<path d="M41.1 330.93h16.13" stroke="#046b04"/>
<path d="M57.2 330.93h16.13" stroke="#068606"/>
<path d="M73.2 330.93h16.13" stroke="#500000"/>
<path d="M89.3 330.93h16.13" stroke="#870000"/>
<path d="M105.4 330.93h16.13" stroke="#2f0000"/>
<path d="M121.5 330.93h16.13" stroke="#090000"/>
<path d="M137.6 330.93h16.13" stroke="#035903"/>
<path d="M153.7 330.93h16.13" stroke="#180000"/>
<path d="M169.8 330.93h16.13" stroke="#100000"/>
<path d="M185.8 330.93h16.13" stroke="#000000"/>
<path d="M201.9 330.93h16.13" stroke="#000100"/>
<path d="M25.0 332.27h16.13" stroke="#057405"/>
<path d="M41.1 332.27h16.13" stroke="#013601"/>
<path d="M57.2 332.27h16.13" stroke="#024402"/>
<path d="M73.2 332.27h16.13" stroke="#900000"/>
<path d="M89.3 332.27h16.13" stroke="#b20000"/>
<path d="M105.4 332.27h16.13" stroke="#890000"/>
<path d="M121.5 332.27h16.13" stroke="#012e01"/>
<path d="M137.6 332.27h16.13" stroke="#046504"/>
<path d="M153.7 332.27h16.13" stroke="#012d01"/>
<path d="M169.8 332.27h16.13" stroke="#024e02"/>
<path d="M185.8 332.27h16.13" stroke="#035b03"/>
<path d="M201.9 332.27h16.13" stroke="#012201"/>
<path d="M25.0 333.60h16.13" stroke="#046c04"/>
<path d="M41.1 333.60h16.13" stroke="#012701"/>
<path d="M57.2 333.60h16.13" stroke="#024002"/>
<path d="M73.2 333.60h16.13" stroke="#b40000"/>
<path d="M89.3 333.60h16.13" stroke="#930000"/>
<path d="M105.4 333.60h16.13" stroke="#4c0000"/>
<path d="M121.5 333.60h16.13" stroke="#024402"/>
<path d="M137.6 333.60h16.13" stroke="#024d02"/>
<path d="M153.7 333.60h16.13" stroke="#013201"/>
<path d="M169.8 333.60h16.13" stroke="#012201"/>
<path d="M185.8 333.60h16.13" stroke="#035503"/>
<path d="M201.9 333.60h16.13" stroke="#013301"/>
<path d="M25.0 334.93h16.13" stroke="#047004"/>
<path d="M41.1 334.93h16.13" stroke="#023a02"/>
<path d="M57.2 334.93h16.13" stroke="#035103"/>
<path d="M73.2 334.93h16.13" stroke="#860000"/>
<path d="M89.3 334.93h16.13" stroke="#980000"/>
<path d="M105.4 334.93h16.13" stroke="#840000"/>
<path d="M121.5 334.93h16.13" stroke="#023e02"/>
<path d="M137.6 334.93h16.13" stroke="#035103"/>
<path d="M153.7 334.93h16.13" stroke="#012801"/>
<path d="M169.8 334.93h16.13" stroke="#011f01"/>
<path d="M185.8 334.93h16.13" stroke="#034e03"/>
<path d="M201.9 334.93h16.13" stroke="#035303"/>
<path d="M25.0 336.27h16.13" stroke="#035f03"/>
<path d="M41.1 336.27h16.13" stroke="#013201"/>
<path d="M57.2 336.27h16.13" stroke="#023c02"/>
<path d="M73.2 336.27h16.13" stroke="#750000"/>
<path d="M89.3 336.27h16.13" stroke="#9d0000"/>
<path d="M105.4 336.27h16.13" stroke="#750000"/>
<path d="M121.5 336.27h16.13" stroke="#012201"/>
<path d="M137.6 336.27h16.13" stroke="#013301"/>
<path d="M153.7 336.27h16.13" stroke="#012701"/>
<path d="M169.8 336.27h16.13" stroke="#035003"/>
<path d="M185.8 336.27h16.13" stroke="#035303"/>
<path d="M201.9 336.27h16.13" stroke="#024c02"/>
<path d="M25.0 337.60h16.13" stroke="#068606"/>
<path d="M41.1 337.60h16.13" stroke="#023a02"/>
<path d="M57.2 337.60h16.13" stroke="#012701"/>
<path d="M73.2 337.60h16.13" stroke="#7e0000"/>
<path d="M89.3 337.60h16.13" stroke="#680000"/>
<path d="M105.4 337.60h16.13" stroke="#750000"/>
<path d="M121.5 337.60h16.13" stroke="#023902"/>
<path d="M137.6 337.60h16.13" stroke="#024202"/>
<path d="M153.7 337.60h16.13" stroke="#035303"/>
<path d="M169.8 337.60h16.13" stroke="#024b02"/>
<path d="M185.8 337.60h16.13" stroke="#035703"/>
<path d="M201.9 337.60h16.13" stroke="#012301"/>
<path d="M25.0 338.93h16.13" stroke="#08a108"/>
<path d="M41.1 338.93h16.13" stroke="#024c02"/>
<path d="M57.2 338.93h16.13" stroke="#012b01"/>
<path d="M73.2 338.93h16.13" stroke="#730000"/>
<path d="M89.3 338.93h16.13" stroke="#970000"/>
<path d="M105.4 338.93h16.13" stroke="#610000"/>
<path d="M121.5 338.93h16.13" stroke="#013401"/>
<path d="M137.6 338.93h16.13" stroke="#013701"/>
<path d="M153.7 338.93h16.13" stroke="#013301"/>
<path d="M169.8 338.93h16.13" stroke="#024702"/>
<path d="M185.8 338.93h16.13" stroke="#046c04"/>
<path d="M201.9 338.93h16.13" stroke="#013501"/>
<path d="M25.0 340.27h16.13" stroke="#012b01"/>
<path d="M41.1 340.27h16.13" stroke="#000000"/>
<path d="M57.2 340.27h16.13" stroke="#000700"/>
<path d="M73.2 340.27h16.13" stroke="#600000"/>
<path d="M89.3 340.27h16.13" stroke="#420000"/>
<path d="M105.4 340.27h16.13" stroke="#6d0000"/>
<path d="M121.5 340.27h16.13" stroke="#067f06"/>
<path d="M137.6 340.27h16.13" stroke="#079207"/>
<path d="M153.7 340.27h16.13" stroke="#001800"/>
<path d="M169.8 340.27h16.13" stroke="#001700"/>
<path d="M185.8 340.27h16.13" stroke="#035303"/>
<path d="M201.9 340.27h16.13" stroke="#034f03"/>
<path d="M25.0 341.60h16.13" stroke="#012801"/>
<path d="M41.1 341.60h16.13" stroke="#001700"/>
<path d="M57.2 341.60h16.13" stroke="#001600"/>
<path d="M73.2 341.60h16.13" stroke="#5f0000"/>
<path d="M89.3 341.60h16.13" stroke="#470000"/>
<path d="M105.4 341.60h16.13" stroke="#600000"/>
<path d="M121.5 341.60h16.13" stroke="#057e05"/>
<path d="M137.6 341.60h16.13" stroke="#08a108"/>
<path d="M153.7 341.60h16.13" stroke="#011f01"/>
<path d="M169.8 341.60h16.13" stroke="#024002"/>
<path d="M185.8 341.60h16.13" stroke="#024102"/>
<path d="M201.9 341.60h16.13" stroke="#012a01"/>
<path d="M25.0 342.93h16.13" stroke="#012601"/>
<path d="M41.1 342.93h16.13" stroke="#001a00"/>
<path d="M57.2 342.93h16.13" stroke="#000500"/>
<path d="M73.2 342.93h16.13" stroke="#5b0000"/>
<path d="M89.3 342.93h16.13" stroke="#860000"/>
<path d="M105.4 342.93h16.13" stroke="#4a0000"/>
<path d="M121.5 342.93h16.13" stroke="#046504"/>
<path d="M137.6 342.93h16.13" stroke="#035c03"/>
<path d="M153.7 342.93h16.13" stroke="#001a00"/>
<path d="M169.8 342.93h16.13" stroke="#001500"/>
<path d="M185.8 342.93h16.13" stroke="#046504"/>
<path d="M201.9 342.93h16.13" stroke="#011e01"/>
<path d="M25.0 344.27h16.13" stroke="#890000"/>
<path d="M41.1 344.27h16.13" stroke="#ac0000"/>
<path d="M57.2 344.27h16.13" stroke="#a90000"/>
<path d="M73.2 344.27h16.13" stroke="#4c0000"/>
<path d="M89.3 344.27h16.13" stroke="#490000"/>
<path d="M105.4 344.27h16.13" stroke="#6b0000"/>
<path d="M121.5 344.27h16.13" stroke="#089f08"/>
<path d="M137.6 344.27h16.13" stroke="#0abd0a"/>
<path d="M153.7 344.27h16.13" stroke="#068406"/>
<path d="M169.8 344.27h16.13" stroke="#012701"/>
<path d="M185.8 344.27h16.13" stroke="#012301"/>
<path d="M201.9 344.27h16.13" stroke="#013401"/>
<path d="M25.0 345.60h16.13" stroke="#a20000"/>
<path d="M41.1 345.60h16.13" stroke="#6f0000"/>
<path d="M57.2 345.60h16.13" stroke="#8a0000"/>
<path d="M73.2 345.60h16.13" stroke="#830000"/>
<path d="M89.3 345.60h16.13" stroke="#210000"/>
<path d="M105.4 345.60h16.13" stroke="#3b0000"/>
<path d="M121.5 345.60h16.13" stroke="#057e05"/>
<path d="M137.6 345.60h16.13" stroke="#0bbf0b"/>
<path d="M153.7 345.60h16.13" stroke="#0abb0a"/>
<path d="M169.8 345.60h16.13" stroke="#012501"/>
<path d="M185.8 345.60h16.13" stroke="#035003"/>
<path d="M201.9 345.60h16.13" stroke="#000f00"/>
<path d="M25.0 346.93h16.13" stroke="#970000"/>
<path d="M41.1 346.93h16.13" stroke="#a80000"/>
<path d="M57.2 346.93h16.13" stroke="#710000"/>
<path d="M73.2 346.93h16.13" stroke="#790000"/>
<path d="M89.3 346.93h16.13" stroke="#1b0000"/>
<path d="M105.4 346.93h16.13" stroke="#4e0000"/>
<path d="M121.5 346.93h16.13" stroke="#057505"/>
<path d="M137.6 346.93h16.13" stroke="#0abc0a"/>
<path d="M153.7 346.93h16.13" stroke="#057c05"/>
<path d="M169.8 346.93h16.13" stroke="#001200"/>
<path d="M185.8 346.93h16.13" stroke="#013501"/>
<path d="M201.9 346.93h16.13" stroke="#001200"/>
<path d="M25.0 348.27h16.13" stroke="#6c0000"/>
<path d="M41.1 348.27h16.13" stroke="#960000"/>
<path d="M57.2 348.27h16.13" stroke="#930000"/>
<path d="M73.2 348.27h16.13" stroke="#440000"/>
<path d="M89.3 348.27h16.13" stroke="#320000"/>
<path d="M105.4 348.27h16.13" stroke="#240000"/>
<path d="M121.5 348.27h16.13" stroke="#057305"/>
<path d="M137.6 348.27h16.13" stroke="#09ab09"/>
<path d="M153.7 348.27h16.13" stroke="#08a208"/>
<path d="M169.8 348.27h16.13" stroke="#001800"/>
<path d="M185.8 348.27h16.13" stroke="#023e02"/>
<path d="M201.9 348.27h16.13" stroke="#012601"/>
<path d="M25.0 349.60h16.13" stroke="#9c0000"/>
<path d="M41.1 349.60h16.13" stroke="#4f0000"/>
<path d="M57.2 349.60h16.13" stroke="#a20000"/>
<path d="M73.2 349.60h16.13" stroke="#3b0000"/>
<path d="M89.3 349.60h16.13" stroke="#270000"/>
<path d="M105.4 349.60h16.13" stroke="#570000"/>
<path d="M121.5 349.60h16.13" stroke="#079107"/>
<path d="M137.6 349.60h16.13" stroke="#08a408"/>
<path d="M153.7 349.60h16.13" stroke="#08a608"/>
<path d="M169.8 349.60h16.13" stroke="#024502"/>
<path d="M185.8 349.60h16.13" stroke="#035903"/>
<path d="M201.9 349.60h16.13" stroke="#012701"/>
<path d="M25.0 350.93h16.13" stroke="#920000"/>
<path d="M41.1 350.93h16.13" stroke="#6c0000"/>
<path d="M57.2 350.93h16.13" stroke="#8a0000"/>
<path d="M73.2 350.93h16.13" stroke="#690000"/>
<path d="M89.3 350.93h16.13" stroke="#070000"/>
<path d="M105.4 350.93h16.13" stroke="#220000"/>
<path d="M121.5 350.93h16.13" stroke="#068c06"/>
<path d="M137.6 350.93h16.13" stroke="#0dd70d"/>
<path d="M153.7 350.93h16.13" stroke="#0abe0a"/>
<path d="M169.8 350.93h16.13" stroke="#012f01"/>
<path d="M185.8 350.93h16.13" stroke="#035403"/>
<path d="M201.9 350.93h16.13" stroke="#001c00"/>
<path d="M25.0 352.27h16.13" stroke="#8e0000"/>
<path d="M41.1 352.27h16.13" stroke="#900000"/>
<path d="M57.2 352.27h16.13" stroke="#aa0000"/>
<path d="M73.2 352.27h16.13" stroke="#0b0000"/>
<path d="M89.3 352.27h16.13" stroke="#3d0000"/>
<path d="M105.4 352.27h16.13" stroke="#330000"/>
<path d="M121.5 352.27h16.13" stroke="#0ab40a"/>
<path d="M137.6 352.27h16.13" stroke="#057705"/>
<path d="M153.7 352.27h16.13" stroke="#09ab09"/>
<path d="M169.8 352.27h16.13" stroke="#000600"/>
<path d="M185.8 352.27h16.13" stroke="#023f02"/>
<path d="M201.9 352.27h16.13" stroke="#024702"/>
<path d="M25.0 353.60h16.13" stroke="#c00000"/>
<path d="M41.1 353.60h16.13" stroke="#9f0000"/>
<path d="M57.2 353.60h16.13" stroke="#9b0000"/>
<path d="M73.2 353.60h16.13" stroke="#0f0000"/>
<path d="M89.3 353.60h16.13" stroke="#140000"/>
<path d="M105.4 353.60h16.13" stroke="#3f0000"/>
<path d="M121.5 353.60h16.13" stroke="#079307"/>
<path d="M137.6 353.60h16.13" stroke="#08a308"/>
<path d="M153.7 353.60h16.13" stroke="#068d06"/>
<path d="M169.8 353.60h16.13" stroke="#060000"/>
<path d="M185.8 353.60h16.13" stroke="#000f00"/>
<path d="M201.9 353.60h16.13" stroke="#024102"/>
<path d="M25.0 354.93h16.13" stroke="#900000"/>
<path d="M41.1 354.93h16.13" stroke="#a80000"/>
<path d="M57.2 354.93h16.13" stroke="#800000"/>
<path d="M73.2 354.93h16.13" stroke="#200000"/>
<path d="M89.3 354.93h16.13" stroke="#2e0000"/>
<path d="M105.4 354.93h16.13" stroke="#230000"/>
<path d="M121.5 354.93h16.13" stroke="#0aba0a"/>
<path d="M137.6 354.93h16.13" stroke="#068306"/>
<path d="M153.7 354.93h16.13" stroke="#0abd0a"/>
<path d="M169.8 354.93h16.13" stroke="#0c0000"/>
<path d="M185.8 354.93h16.13" stroke="#000f00"/>
<path d="M201.9 354.93h16.13" stroke="#046904"/>
<path d="M25.0 356.27h16.13" stroke="#8c0000"/>
<path d="M41.1 356.27h16.13" stroke="#ab0000"/>
<path d="M57.2 356.27h16.13" stroke="#a30000"/>
<path d="M73.2 356.27h16.13" stroke="#120000"/>
<path d="M89.3 356.27h16.13" stroke="#4b0000"/>
<path d="M105.4 356.27h16.13" stroke="#000500"/>
<path d="M121.5 356.27h16.13" stroke="#068d06"/>
<path d="M137.6 356.27h16.13" stroke="#0bc10b"/>
<path d="M153.7 356.27h16.13" stroke="#0aba0a"/>
<path d="M169.8 356.27h16.13" stroke="#000300"/>
<path d="M185.8 356.27h16.13" stroke="#023e02"/>
<path d="M201.9 356.27h16.13" stroke="#024202"/>
<path d="M25.0 357.60h16.13" stroke="#7d0000"/>
<path d="M41.1 357.60h16.13" stroke="#be0000"/>
<path d="M57.2 357.60h16.13" stroke="#b60000"/>
<path d="M73.2 357.60h16.13" stroke="#070000"/>
<path d="M89.3 357.60h16.13" stroke="#450000"/>
<path d="M105.4 357.60h16.13" stroke="#060000"/>
<path d="M121.5 357.60h16.13" stroke="#079307"/>
<path d="M137.6 357.60h16.13" stroke="#0cd10c"/>
<path d="M153.7 357.60h16.13" stroke="#09ac09"/>
<path d="M169.8 357.60h16.13" stroke="#012e01"/>
<path d="M185.8 357.60h16.13" stroke="#035b03"/>
<path d="M201.9 357.60h16.13" stroke="#024002"/>
<path d="M25.0 358.93h16.13" stroke="#b20000"/>
<path d="M41.1 358.93h16.13" stroke="#be0000"/>
<path d="M57.2 358.93h16.13" stroke="#b30000"/>
<path d="M73.2 358.93h16.13" stroke="#000200"/>
<path d="M89.3 358.93h16.13" stroke="#380000"/>
<path d="M105.4 358.93h16.13" stroke="#050000"/>
<path d="M121.5 358.93h16.13" stroke="#046a04"/>
<path d="M137.6 358.93h16.13" stroke="#09af09"/>
<path d="M153.7 358.93h16.13" stroke="#09aa09"/>
<path d="M169.8 358.93h16.13" stroke="#000d00"/>
<path d="M185.8 358.93h16.13" stroke="#013201"/>
<path d="M201.9 358.93h16.13" stroke="#046304"/>
<path d="M25.0 360.27h16.13" stroke="#c00000"/>
<path d="M41.1 360.27h16.13" stroke="#7e0000"/>
<path d="M57.2 360.27h16.13" stroke="#910000"/>
<path d="M73.2 360.27h16.13" stroke="#001100"/>
<path d="M89.3 360.27h16.13" stroke="#180000"/>
<path d="M105.4 360.27h16.13" stroke="#250000"/>
<path d="M121.5 360.27h16.13" stroke="#046d04"/>
<path d="M137.6 360.27h16.13" stroke="#08a508"/>
<path d="M153.7 360.27h16.13" stroke="#046404"/>
<path d="M169.8 360.27h16.13" stroke="#057305"/>
<path d="M185.8 360.27h16.13" stroke="#012201"/>
<path d="M201.9 360.27h16.13" stroke="#000200"/>
<path d="M25.0 361.60h16.13" stroke="#ad0000"/>
<path d="M41.1 361.60h16.13" stroke="#b20000"/>
<path d="M57.2 361.60h16.13" stroke="#b00000"/>
<path d="M73.2 361.60h16.13" stroke="#120000"/>
<path d="M89.3 361.60h16.13" stroke="#070000"/>
<path d="M105.4 361.60h16.13" stroke="#1e0000"/>
<path d="M121.5 361.60h16.13" stroke="#057005"/>
<path d="M137.6 361.60h16.13" stroke="#057d05"/>
<path d="M153.7 361.60h16.13" stroke="#068306"/>
<path d="M169.8 361.60h16.13" stroke="#035703"/>
<path d="M185.8 361.60h16.13" stroke="#001100"/>
<path d="M201.9 361.60h16.13" stroke="#011e01"/>
<path d="M25.0 362.93h16.13" stroke="#8d0000"/>
<path d="M41.1 362.93h16.13" stroke="#ac0000"/>
<path d="M57.2 362.93h16.13" stroke="#830000"/>
<path d="M73.2 362.93h16.13" stroke="#0e0000"/>
<path d="M89.3 362.93h16.13" stroke="#000600"/>
<path d="M105.4 362.93h16.13" stroke="#000b00"/>
<path d="M121.5 362.93h16.13" stroke="#089c08"/>
<path d="M137.6 362.93h16.13" stroke="#057805"/>
<path d="M153.7 362.93h16.13" stroke="#068a06"/>
<path d="M169.8 362.93h16.13" stroke="#068106"/>
<path d="M185.8 362.93h16.13" stroke="#012e01"/>
<path d="M201.9 362.93h16.13" stroke="#012e01"/>
<path d="M25.0 364.27h16.13" stroke="#b20000"/>
<path d="M41.1 364.27h16.13" stroke="#ad0000"/>
<path d="M57.2 364.27h16.13" stroke="#cc0000"/>
<path d="M73.2 364.27h16.13" stroke="#000900"/>
<path d="M89.3 364.27h16.13" stroke="#001a00"/>
<path d="M105.4 364.27h16.13" stroke="#000200"/>
<path d="M121.5 364.27h16.13" stroke="#068906"/>
<path d="M137.6 364.27h16.13" stroke="#046804"/>
<path d="M153.7 364.27h16.13" stroke="#046804"/>
<path d="M169.8 364.27h16.13" stroke="#024c02"/>
<path d="M185.8 364.27h16.13" stroke="#024102"/>
<path d="M201.9 364.27h16.13" stroke="#013801"/>
<path d="M25.0 365.60h16.13" stroke="#c30000"/>
<path d="M41.1 365.60h16.13" stroke="#c50000"/>
<path d="M57.2 365.60h16.13" stroke="#9e0000"/>
<path d="M73.2 365.60h16.13" stroke="#012401"/>
<path d="M89.3 365.60h16.13" stroke="#001700"/>
<path d="M105.4 365.60h16.13" stroke="#001b00"/>
<path d="M121.5 365.60h16.13" stroke="#046604"/>
<path d="M137.6 365.60h16.13" stroke="#046804"/>
<path d="M153.7 365.60h16.13" stroke="#057505"/>
<path d="M169.8 365.60h16.13" stroke="#035103"/>
<path d="M185.8 365.60h16.13" stroke="#011f01"/>
<path d="M201.9 365.60h16.13" stroke="#035e03"/>
<path d="M25.0 366.93h16.13" stroke="#840000"/>
<path d="M41.1 366.93h16.13" stroke="#840000"/>
<path d="M57.2 366.93h16.13" stroke="#d10000"/>
<path d="M73.2 366.93h16.13" stroke="#012401"/>
<path d="M89.3 366.93h16.13" stroke="#000d00"/>
<path d="M105.4 366.93h16.13" stroke="#000800"/>
<path d="M121.5 366.93h16.13" stroke="#08a308"/>
<path d="M137.6 366.93h16.13" stroke="#079107"/>
<path d="M153.7 366.93h16.13" stroke="#078f07"/>
<path d="M169.8 366.93h16.13" stroke="#035803"/>
<path d="M185.8 366.93h16.13" stroke="#012e01"/>
<path d="M201.9 366.93h16.13" stroke="#035c03"/>
<path d="M25.0 368.27h16.13" stroke="#c70000"/>
<path d="M41.1 368.27h16.13" stroke="#a30000"/>
<path d="M57.2 368.27h16.13" stroke="#d80000"/>
<path d="M73.2 368.27h16.13" stroke="#100000"/>
<path d="M89.3 368.27h16.13" stroke="#000b00"/>
<path d="M105.4 368.27h16.13" stroke="#2e0000"/>
<path d="M121.5 368.27h16.13" stroke="#046b04"/>
<path d="M137.6 368.27h16.13" stroke="#000800"/>
<path d="M153.7 368.27h16.13" stroke="#024402"/>
<path d="M169.8 368.27h16.13" stroke="#035903"/>
<path d="M185.8 368.27h16.13" stroke="#012401"/>
<path d="M201.9 368.27h16.13" stroke="#057b05"/>
<path d="M25.0 369.60h16.13" stroke="#bf0000"/>
<path d="M41.1 369.60h16.13" stroke="#840000"/>
<path d="M57.2 369.60h16.13" stroke="#d60000"/>
<path d="M73.2 369.60h16.13" stroke="#000500"/>
<path d="M89.3 369.60h16.13" stroke="#000c00"/>
<path d="M105.4 369.60h16.13" stroke="#200000"/>
<path d="M121.5 369.60h16.13" stroke="#035503"/>
<path d="M137.6 369.60h16.13" stroke="#000000"/>
<path d="M153.7 369.60h16.13" stroke="#035b03"/>
<path d="M169.8 369.60h16.13" stroke="#046704"/>
<path d="M185.8 369.60h16.13" stroke="#012701"/>
<path d="M201.9 369.60h16.13" stroke="#035203"/>
<path d="M25.0 370.93h16.13" stroke="#8b0000"/>
<path d="M41.1 370.93h16.13" stroke="#a30000"/>
<path d="M57.2 370.93h16.13" stroke="#b10000"/>
<path d="M73.2 370.93h16.13" stroke="#1e0000"/>
<path d="M89.3 370.93h16.13" stroke="#000200"/>
<path d="M105.4 370.93h16.13" stroke="#540000"/>
<path d="M121.5 370.93h16.13" stroke="#057605"/>
<path d="M137.6 370.93h16.13" stroke="#012401"/>
<path d="M153.7 370.93h16.13" stroke="#012e01"/>
<path d="M169.8 370.93h16.13" stroke="#046704"/>
<path d="M185.8 370.93h16.13" stroke="#023e02"/>
<path d="M201.9 370.93h16.13" stroke="#035d03"/>
<path d="M25.0 372.27h16.13" stroke="#9c0000"/>
<path d="M41.1 372.27h16.13" stroke="#9f0000"/>
<path d="M57.2 372.27h16.13" stroke="#b20000"/>
<path d="M73.2 372.27h16.13" stroke="#310000"/>
<path d="M89.3 372.27h16.13" stroke="#035e03"/>
<path d="M105.4 372.27h16.13" stroke="#2b0000"/>
<path d="M121.5 372.27h16.13" stroke="#035703"/>
<path d="M137.6 372.27h16.13" stroke="#035703"/>
<path d="M153.7 372.27h16.13" stroke="#001100"/>
<path d="M169.8 372.27h16.13" stroke="#024002"/>
<path d="M185.8 372.27h16.13" stroke="#024c02"/>
<path d="M201.9 372.27h16.13" stroke="#057105"/>
<path d="M25.0 373.60h16.13" stroke="#a60000"/>
<path d="M41.1 373.60h16.13" stroke="#780000"/>
<path d="M57.2 373.60h16.13" stroke="#c20000"/>
<path d="M73.2 373.60h16.13" stroke="#1e0000"/>
<path d="M89.3 373.60h16.13" stroke="#046f04"/>
<path d="M105.4 373.60h16.13" stroke="#500000"/>
<path d="M121.5 373.60h16.13" stroke="#046204"/>
<path d="M137.6 373.60h16.13" stroke="#035303"/>
<path d="M153.7 373.60h16.13" stroke="#012501"/>
<path d="M169.8 373.60h16.13" stroke="#001800"/>
<path d="M185.8 373.60h16.13" stroke="#035503"/>
<path d="M201.9 373.60h16.13" stroke="#024602"/>
<path d="M25.0 374.93h16.13" stroke="#b10000"/>
<path d="M41.1 374.93h16.13" stroke="#7c0000"/>
<path d="M57.2 374.93h16.13" stroke="#890000"/>
<path d="M73.2 374.93h16.13" stroke="#350000"/>
<path d="M89.3 374.93h16.13" stroke="#035c03"/>
<path d="M105.4 374.93h16.13" stroke="#450000"/>
<path d="M121.5 374.93h16.13" stroke="#046704"/>
<path d="M137.6 374.93h16.13" stroke="#035403"/>
<path d="M153.7 374.93h16.13" stroke="#001700"/>
<path d="M169.8 374.93h16.13" stroke="#012201"/>
<path d="M185.8 374.93h16.13" stroke="#068206"/>
<path d="M201.9 374.93h16.13" stroke="#035303"/>
<path d="M25.0 376.27h16.13" stroke="#cb0000"/>
<path d="M41.1 376.27h16.13" stroke="#a80000"/>
<path d="M57.2 376.27h16.13" stroke="#720000"/>
<path d="M73.2 376.27h16.13" stroke="#046704"/>
<path d="M89.3 376.27h16.13" stroke="#001b00"/>
<path d="M105.4 376.27h16.13" stroke="#3f0000"/>
<path d="M121.5 376.27h16.13" stroke="#068006"/>
<path d="M137.6 376.27h16.13" stroke="#035103"/>
<path d="M153.7 376.27h16.13" stroke="#013501"/>
<path d="M169.8 376.27h16.13" stroke="#013101"/>
<path d="M185.8 376.27h16.13" stroke="#012501"/>
<path d="M201.9 376.27h16.13" stroke="#012701"/>
<path d="M25.0 377.60h16.13" stroke="#a00000"/>
<path d="M41.1 377.60h16.13" stroke="#a50000"/>
<path d="M57.2 377.60h16.13" stroke="#ae0000"/>
<path d="M73.2 377.60h16.13" stroke="#024a02"/>
<path d="M89.3 377.60h16.13" stroke="#023f02"/>
<path d="M105.4 377.60h16.13" stroke="#470000"/>
<path d="M121.5 377.60h16.13" stroke="#068306"/>
<path d="M137.6 377.60h16.13" stroke="#024202"/>
<path d="M153.7 377.60h16.13" stroke="#000d00"/>
<path d="M169.8 377.60h16.13" stroke="#001600"/>
<path d="M185.8 377.60h16.13" stroke="#001900"/>
<path d="M201.9 377.60h16.13" stroke="#001800"/>
<path d="M25.0 378.93h16.13" stroke="#960000"/>
<path d="M41.1 378.93h16.13" stroke="#c70000"/>
<path d="M57.2 378.93h16.13" stroke="#6c0000"/>
<path d="M73.2 378.93h16.13" stroke="#046d04"/>
<path d="M89.3 378.93h16.13" stroke="#012d01"/>
<path d="M105.4 378.93h16.13" stroke="#090000"/>
<path d="M121.5 378.93h16.13" stroke="#046e04"/>
<path d="M137.6 378.93h16.13" stroke="#012901"/>
<path d="M153.7 378.93h16.13" stroke="#001c00"/>
<path d="M169.8 378.93h16.13" stroke="#012601"/>
<path d="M185.8 378.93h16.13" stroke="#011f01"/>
<path d="M201.9 378.93h16.13" stroke="#001600"/>
<path d="M25.0 380.27h16.13" stroke="#790000"/>
<path d="M41.1 380.27h16.13" stroke="#910000"/>
<path d="M57.2 380.27h16.13" stroke="#730000"/>
<path d="M73.2 380.27h16.13" stroke="#012c01"/>
<path d="M89.3 380.27h16.13" stroke="#3a0000"/>
<path d="M105.4 380.27h16.13" stroke="#390000"/>
<path d="M121.5 380.27h16.13" stroke="#079207"/>
<path d="M137.6 380.27h16.13" stroke="#09a809"/>
<path d="M153.7 380.27h16.13" stroke="#089e08"/>
<path d="M169.8 380.27h16.13" stroke="#0d0000"/>
<path d="M185.8 380.27h16.13" stroke="#000a00"/>
<path d="M201.9 380.27h16.13" stroke="#001200"/>
<path d="M25.0 381.60h16.13" stroke="#a90000"/>
<path d="M41.1 381.60h16.13" stroke="#990000"/>
<path d="M57.2 381.60h16.13" stroke="#950000"/>
<path d="M73.2 381.60h16.13" stroke="#012f01"/>
<path d="M89.3 381.60h16.13" stroke="#270000"/>
<path d="M105.4 381.60h16.13" stroke="#3b0000"/>
<path d="M121.5 381.60h16.13" stroke="#08a608"/>
<path d="M137.6 381.60h16.13" stroke="#09b209"/>
<path d="M153.7 381.60h16.13" stroke="#0ab70a"/>
<path d="M169.8 381.60h16.13" stroke="#190000"/>
<path d="M185.8 381.60h16.13" stroke="#000700"/>
<path d="M201.9 381.60h16.13" stroke="#001b00"/>
<path d="M25.0 382.93h16.13" stroke="#9e0000"/>
<path d="M41.1 382.93h16.13" stroke="#770000"/>
<path d="M57.2 382.93h16.13" stroke="#750000"/>
<path d="M73.2 382.93h16.13" stroke="#023d02"/>
<path d="M89.3 382.93h16.13" stroke="#260000"/>
<path d="M105.4 382.93h16.13" stroke="#370000"/>
<path d="M121.5 382.93h16.13" stroke="#068a06"/>
<path d="M137.6 382.93h16.13" stroke="#079a07"/>
<path d="M153.7 382.93h16.13" stroke="#09b009"/>
<path d="M169.8 382.93h16.13" stroke="#280000"/>
<path d="M185.8 382.93h16.13" stroke="#000700"/>
<path d="M201.9 382.93h16.13" stroke="#012d01"/>
<path d="M25.0 384.27h16.13" stroke="#420000"/>
<path d="M41.1 384.27h16.13" stroke="#4d0000"/>
<path d="M57.2 384.27h16.13" stroke="#0d0000"/>
<path d="M73.2 384.27h16.13" stroke="#4f0000"/>
<path d="M89.3 384.27h16.13" stroke="#340000"/>
<path d="M105.4 384.27h16.13" stroke="#790000"/>
<path d="M121.5 384.27h16.13" stroke="#035f03"/>
<path d="M137.6 384.27h16.13" stroke="#079607"/>
<path d="M153.7 384.27h16.13" stroke="#0cd10c"/>
<path d="M169.8 384.27h16.13" stroke="#510000"/>
<path d="M185.8 384.27h16.13" stroke="#210000"/>
<path d="M201.9 384.27h16.13" stroke="#160000"/>
<path d="M25.0 385.60h16.13" stroke="#430000"/>
<path d="M41.1 385.60h16.13" stroke="#350000"/>
<path d="M57.2 385.60h16.13" stroke="#420000"/>
<path d="M73.2 385.60h16.13" stroke="#4e0000"/>
<path d="M89.3 385.60h16.13" stroke="#460000"/>
<path d="M105.4 385.60h16.13" stroke="#860000"/>
<path d="M121.5 385.60h16.13" stroke="#079407"/>
<path d="M137.6 385.60h16.13" stroke="#068a06"/>
<path d="M153.7 385.60h16.13" stroke="#0aba0a"/>
<path d="M169.8 385.60h16.13" stroke="#5f0000"/>
<path d="M185.8 385.60h16.13" stroke="#060000"/>
<path d="M201.9 385.60h16.13" stroke="#280000"/>
<path d="M25.0 386.93h16.13" stroke="#380000"/>
<path d="M41.1 386.93h16.13" stroke="#0e0000"/>
<path d="M57.2 386.93h16.13" stroke="#1c0000"/>
<path d="M73.2 386.93h16.13" stroke="#450000"/>
<path d="M89.3 386.93h16.13" stroke="#2a0000"/>
<path d="M105.4 386.93h16.13" stroke="#5e0000"/>
<path d="M121.5 386.93h16.13" stroke="#068506"/>
<path d="M137.6 386.93h16.13" stroke="#068906"/>
<path d="M153.7 386.93h16.13" stroke="#0abd0a"/>
<path d="M169.8 386.93h16.13" stroke="#3b0000"/>
<path d="M185.8 386.93h16.13" stroke="#0c0000"/>
<path d="M201.9 386.93h16.13" stroke="#180000"/>
<path d="M25.0 388.27h16.13" stroke="#620000"/>
<path d="M41.1 388.27h16.13" stroke="#440000"/>
<path d="M57.2 388.27h16.13" stroke="#190000"/>
<path d="M73.2 388.27h16.13" stroke="#4a0000"/>
<path d="M89.3 388.27h16.13" stroke="#2d0000"/>
<path d="M105.4 388.27h16.13" stroke="#210000"/>
<path d="M121.5 388.27h16.13" stroke="#0ccf0c"/>
<path d="M137.6 388.27h16.13" stroke="#068306"/>
<path d="M153.7 388.27h16.13" stroke="#068006"/>
<path d="M169.8 388.27h16.13" stroke="#6e0000"/>
<path d="M185.8 388.27h16.13" stroke="#320000"/>
<path d="M201.9 388.27h16.13" stroke="#0d0000"/>
<path d="M25.0 389.60h16.13" stroke="#2f0000"/>
<path d="M41.1 389.60h16.13" stroke="#640000"/>
<path d="M57.2 389.60h16.13" stroke="#210000"/>
<path d="M73.2 389.60h16.13" stroke="#3e0000"/>
<path d="M89.3 389.60h16.13" stroke="#4b0000"/>
<path d="M105.4 389.60h16.13" stroke="#4b0000"/>
<path d="M121.5 389.60h16.13" stroke="#0ab40a"/>
<path d="M137.6 389.60h16.13" stroke="#09a709"/>
<path d="M153.7 389.60h16.13" stroke="#079407"/>
<path d="M169.8 389.60h16.13" stroke="#490000"/>
<path d="M185.8 389.60h16.13" stroke="#4c0000"/>
<path d="M201.9 389.60h16.13" stroke="#010000"/>
<path d="M25.0 390.93h16.13" stroke="#5c0000"/>
<path d="M41.1 390.93h16.13" stroke="#320000"/>
<path d="M57.2 390.93h16.13" stroke="#230000"/>
<path d="M73.2 390.93h16.13" stroke="#240000"/>
<path d="M89.3 390.93h16.13" stroke="#2f0000"/>
<path d="M105.4 390.93h16.13" stroke="#1f0000"/>
<path d="M121.5 390.93h16.13" stroke="#0dd90d"/>
<path d="M137.6 390.93h16.13" stroke="#068706"/>
<path d="M153.7 390.93h16.13" stroke="#09a809"/>
<path d="M169.8 390.93h16.13" stroke="#520000"/>
<path d="M185.8 390.93h16.13" stroke="#270000"/>
<path d="M201.9 390.93h16.13" stroke="#080000"/>
<path d="M25.0 392.27h16.13" stroke="#260000"/>
<path d="M41.1 392.27h16.13" stroke="#350000"/>
<path d="M57.2 392.27h16.13" stroke="#360000"/>
<path d="M73.2 392.27h16.13" stroke="#2b0000"/>
<path d="M89.3 392.27h16.13" stroke="#840000"/>
<path d="M105.4 392.27h16.13" stroke="#4e0000"/>
<path d="M121.5 392.27h16.13" stroke="#0dd40d"/>
<path d="M137.6 392.27h16.13" stroke="#046704"/>
<path d="M153.7 392.27h16.13" stroke="#057905"/>
<path d="M169.8 392.27h16.13" stroke="#480000"/>
<path d="M185.8 392.27h16.13" stroke="#070000"/>
<path d="M201.9 392.27h16.13" stroke="#340000"/>
<path d="M25.0 393.60h16.13" stroke="#340000"/>
<path d="M41.1 393.60h16.13" stroke="#0c0000"/>
<path d="M57.2 393.60h16.13" stroke="#0c0000"/>
<path d="M73.2 393.60h16.13" stroke="#550000"/>
<path d="M89.3 393.60h16.13" stroke="#700000"/>
<path d="M105.4 393.60h16.13" stroke="#230000"/>
<path d="M121.5 393.60h16.13" stroke="#0cd10c"/>
<path d="M137.6 393.60h16.13" stroke="#079907"/>
<path d="M153.7 393.60h16.13" stroke="#09ac09"/>
<path d="M169.8 393.60h16.13" stroke="#480000"/>
<path d="M185.8 393.60h16.13" stroke="#140000"/>
<path d="M201.9 393.60h16.13" stroke="#080000"/>
<path d="M25.0 394.93h16.13" stroke="#480000"/>
<path d="M41.1 394.93h16.13" stroke="#400000"/>
<path d="M57.2 394.93h16.13" stroke="#150000"/>
<path d="M73.2 394.93h16.13" stroke="#500000"/>
<path d="M89.3 394.93h16.13" stroke="#6c0000"/>
<path d="M105.4 394.93h16.13" stroke="#480000"/>
<path d="M121.5 394.93h16.13" stroke="#08a408"/>
<path d="M137.6 394.93h16.13" stroke="#046304"/>
<path d="M153.7 394.93h16.13" stroke="#068206"/>
<path d="M169.8 394.93h16.13" stroke="#4c0000"/>
<path d="M185.8 394.93h16.13" stroke="#0b0000"/>
<path d="M201.9 394.93h16.13" stroke="#2b0000"/>
<path d="M25.0 396.27h16.13" stroke="#450000"/>
<path d="M41.1 396.27h16.13" stroke="#3c0000"/>
<path d="M57.2 396.27h16.13" stroke="#270000"/>
<path d="M73.2 396.27h16.13" stroke="#000300"/>
<path d="M89.3 396.27h16.13" stroke="#0c0000"/>
<path d="M105.4 396.27h16.13" stroke="#000200"/>
<path d="M121.5 396.27h16.13" stroke="#0bc60b"/>
<path d="M137.6 396.27h16.13" stroke="#079a07"/>
<path d="M153.7 396.27h16.13" stroke="#067f06"/>
<path d="M169.8 396.27h16.13" stroke="#000a00"/>
<path d="M185.8 396.27h16.13" stroke="#000600"/>
<path d="M201.9 396.27h16.13" stroke="#000600"/>
<path d="M25.0 397.60h16.13" stroke="#420000"/>
<path d="M41.1 397.60h16.13" stroke="#2b0000"/>
<path d="M57.2 397.60h16.13" stroke="#2e0000"/>
<path d="M73.2 397.60h16.13" stroke="#000400"/>
<path d="M89.3 397.60h16.13" stroke="#000c00"/>
<path d="M105.4 397.60h16.13" stroke="#1e0000"/>
<path d="M121.5 397.60h16.13" stroke="#0ab40a"/>
<path d="M137.6 397.60h16.13" stroke="#057a05"/>
<path d="M153.7 397.60h16.13" stroke="#057305"/>
<path d="M169.8 397.60h16.13" stroke="#1e0000"/>
<path d="M185.8 397.60h16.13" stroke="#000a00"/>
<path d="M201.9 397.60h16.13" stroke="#040000"/>
<path d="M25.0 398.93h16.13" stroke="#640000"/>
<path d="M41.1 398.93h16.13" stroke="#100000"/>
<path d="M57.2 398.93h16.13" stroke="#350000"/>
<path d="M73.2 398.93h16.13" stroke="#000e00"/>
<path d="M89.3 398.93h16.13" stroke="#000b00"/>
<path d="M105.4 398.93h16.13" stroke="#100000"/>
<path d="M121.5 398.93h16.13" stroke="#08a308"/>
<path d="M137.6 398.93h16.13" stroke="#046004"/>
<path d="M153.7 398.93h16.13" stroke="#068b06"/>
<path d="M169.8 398.93h16.13" stroke="#280000"/>
<path d="M185.8 398.93h16.13" stroke="#000500"/>
<path d="M201.9 398.93h16.13" stroke="#080000"/>
<path d="M25.0 400.27h16.13" stroke="#780000"/>
<path d="M41.1 400.27h16.13" stroke="#0d0000"/>
<path d="M57.2 400.27h16.13" stroke="#3a0000"/>
<path d="M73.2 400.27h16.13" stroke="#011f01"/>
<path d="M89.3 400.27h16.13" stroke="#035b03"/>
<path d="M105.4 400.27h16.13" stroke="#001300"/>
<path d="M121.5 400.27h16.13" stroke="#08a208"/>
<path d="M137.6 400.27h16.13" stroke="#046904"/>
<path d="M153.7 400.27h16.13" stroke="#046504"/>
<path d="M169.8 400.27h16.13" stroke="#050000"/>
<path d="M185.8 400.27h16.13" stroke="#000300"/>
<path d="M201.9 400.27h16.13" stroke="#050000"/>
<path d="M25.0 401.60h16.13" stroke="#550000"/>
<path d="M41.1 401.60h16.13" stroke="#2f0000"/>
<path d="M57.2 401.60h16.13" stroke="#420000"/>
<path d="M73.2 401.60h16.13" stroke="#013301"/>
<path d="M89.3 401.60h16.13" stroke="#023b02"/>
<path d="M105.4 401.60h16.13" stroke="#012c01"/>
<path d="M121.5 401.60h16.13" stroke="#079707"/>
<path d="M137.6 401.60h16.13" stroke="#057705"/>
<path d="M153.7 401.60h16.13" stroke="#046604"/>
<path d="M169.8 401.60h16.13" stroke="#120000"/>
<path d="M185.8 401.60h16.13" stroke="#120000"/>
<path d="M201.9 401.60h16.13" stroke="#1b0000"/>
<path d="M25.0 402.93h16.13" stroke="#4e0000"/>
<path d="M41.1 402.93h16.13" stroke="#1f0000"/>
<path d="M57.2 402.93h16.13" stroke="#1e0000"/>
<path d="M73.2 402.93h16.13" stroke="#012101"/>
<path d="M89.3 402.93h16.13" stroke="#024702"/>
<path d="M105.4 402.93h16.13" stroke="#001700"/>
<path d="M121.5 402.93h16.13" stroke="#0abb0a"/>
<path d="M137.6 402.93h16.13" stroke="#035703"/>
<path d="M153.7 402.93h16.13" stroke="#024d02"/>
<path d="M169.8 402.93h16.13" stroke="#000300"/>
<path d="M185.8 402.93h16.13" stroke="#000a00"/>
<path d="M201.9 402.93h16.13" stroke="#000100"/>
<path d="M25.0 404.27h16.13" stroke="#0b0000"/>
<path d="M41.1 404.27h16.13" stroke="#170000"/>
<path d="M57.2 404.27h16.13" stroke="#c60000"/>
<path d="M73.2 404.27h16.13" stroke="#012001"/>
<path d="M89.3 404.27h16.13" stroke="#013101"/>
<path d="M105.4 404.27h16.13" stroke="#012901"/>
<path d="M121.5 404.27h16.13" stroke="#013601"/>
<path d="M137.6 404.27h16.13" stroke="#09a809"/>
<path d="M153.7 404.27h16.13" stroke="#035f03"/>
<path d="M169.8 404.27h16.13" stroke="#011f01"/>
<path d="M185.8 404.27h16.13" stroke="#001b00"/>
<path d="M201.9 404.27h16.13" stroke="#012101"/>
<path d="M25.0 405.60h16.13" stroke="#380000"/>
<path d="M41.1 405.60h16.13" stroke="#180000"/>
<path d="M57.2 405.60h16.13" stroke="#b20000"/>
<path d="M73.2 405.60h16.13" stroke="#012901"/>
<path d="M89.3 405.60h16.13" stroke="#012a01"/>
<path d="M105.4 405.60h16.13" stroke="#035403"/>
<path d="M121.5 405.60h16.13" stroke="#046604"/>
<path d="M137.6 405.60h16.13" stroke="#0dd60d"/>
<path d="M153.7 405.60h16.13" stroke="#035403"/>
<path d="M169.8 405.60h16.13" stroke="#001000"/>
<path d="M185.8 405.60h16.13" stroke="#011e01"/>
<path d="M201.9 405.60h16.13" stroke="#012e01"/>
<path d="M25.0 406.93h16.13" stroke="#420000"/>
<path d="M41.1 406.93h16.13" stroke="#3f0000"/>
<path d="M57.2 406.93h16.13" stroke="#aa0000"/>
<path d="M73.2 406.93h16.13" stroke="#013501"/>
<path d="M89.3 406.93h16.13" stroke="#024702"/>
<path d="M105.4 406.93h16.13" stroke="#023f02"/>
<path d="M121.5 406.93h16.13" stroke="#035c03"/>
<path d="M137.6 406.93h16.13" stroke="#0ab70a"/>
<path d="M153.7 406.93h16.13" stroke="#035d03"/>
<path d="M169.8 406.93h16.13" stroke="#000f00"/>
<path d="M185.8 406.93h16.13" stroke="#024202"/>
<path d="M201.9 406.93h16.13" stroke="#012301"/>
<path d="M25.0 408.27h16.13" stroke="#000300"/>
<path d="M41.1 408.27h16.13" stroke="#000d00"/>
<path d="M57.2 408.27h16.13" stroke="#000c00"/>
<path d="M73.2 408.27h16.13" stroke="#000200"/>
<path d="M89.3 408.27h16.13" stroke="#240000"/>
<path d="M105.4 408.27h16.13" stroke="#060000"/>
<path d="M121.5 408.27h16.13" stroke="#035a03"/>
<path d="M137.6 408.27h16.13" stroke="#08a008"/>
<path d="M153.7 408.27h16.13" stroke="#013501"/>
<path d="M169.8 408.27h16.13" stroke="#9e0000"/>
<path d="M185.8 408.27h16.13" stroke="#3f0000"/>
<path d="M201.9 408.27h16.13" stroke="#080000"/>
<path d="M25.0 409.60h16.13" stroke="#100000"/>
<path d="M41.1 409.60h16.13" stroke="#000e00"/>
<path d="M57.2 409.60h16.13" stroke="#001400"/>
<path d="M73.2 409.60h16.13" stroke="#001200"/>
<path d="M89.3 409.60h16.13" stroke="#000600"/>
<path d="M105.4 409.60h16.13" stroke="#000c00"/>
<path d="M121.5 409.60h16.13" stroke="#035b03"/>
<path d="M137.6 409.60h16.13" stroke="#068a06"/>
<path d="M153.7 409.60h16.13" stroke="#035303"/>
<path d="M169.8 409.60h16.13" stroke="#a00000"/>
<path d="M185.8 409.60h16.13" stroke="#040000"/>
<path d="M201.9 409.60h16.13" stroke="#200000"/>
<path d="M25.0 410.93h16.13" stroke="#000000"/>
<path d="M41.1 410.93h16.13" stroke="#001200"/>
<path d="M57.2 410.93h16.13" stroke="#001000"/>
<path d="M73.2 410.93h16.13" stroke="#001100"/>
<path d="M89.3 410.93h16.13" stroke="#170000"/>
<path d="M105.4 410.93h16.13" stroke="#000400"/>
<path d="M121.5 410.93h16.13" stroke="#035803"/>
<path d="M137.6 410.93h16.13" stroke="#068306"/>
<path d="M153.7 410.93h16.13" stroke="#012d01"/>
<path d="M169.8 410.93h16.13" stroke="#980000"/>
<path d="M185.8 410.93h16.13" stroke="#2d0000"/>
<path d="M201.9 410.93h16.13" stroke="#000800"/>
<path d="M25.0 412.27h16.13" stroke="#340000"/>
<path d="M41.1 412.27h16.13" stroke="#230000"/>
<path d="M57.2 412.27h16.13" stroke="#290000"/>
<path d="M73.2 412.27h16.13" stroke="#079007"/>
<path d="M89.3 412.27h16.13" stroke="#079107"/>
<path d="M105.4 412.27h16.13" stroke="#013201"/>
<path d="M121.5 412.27h16.13" stroke="#160000"/>
<path d="M137.6 412.27h16.13" stroke="#000c00"/>
<path d="M153.7 412.27h16.13" stroke="#012f01"/>
<path d="M169.8 412.27h16.13" stroke="#880000"/>
<path d="M185.8 412.27h16.13" stroke="#630000"/>
<path d="M201.9 412.27h16.13" stroke="#180000"/>
<path d="M25.0 413.60h16.13" stroke="#1f0000"/>
<path d="M41.1 413.60h16.13" stroke="#240000"/>
<path d="M57.2 413.60h16.13" stroke="#150000"/>
<path d="M73.2 413.60h16.13" stroke="#079507"/>
<path d="M89.3 413.60h16.13" stroke="#068006"/>
<path d="M105.4 413.60h16.13" stroke="#046e04"/>
<path d="M121.5 413.60h16.13" stroke="#020000"/>
<path d="M137.6 413.60h16.13" stroke="#0d0000"/>
<path d="M153.7 413.60h16.13" stroke="#001700"/>
<path d="M169.8 413.60h16.13" stroke="#8a0000"/>
<path d="M185.8 413.60h16.13" stroke="#330000"/>
<path d="M201.9 413.60h16.13" stroke="#490000"/>
<path d="M25.0 414.93h16.13" stroke="#220000"/>
<path d="M41.1 414.93h16.13" stroke="#1f0000"/>
<path d="M57.2 414.93h16.13" stroke="#340000"/>
<path d="M73.2 414.93h16.13" stroke="#0ab80a"/>
<path d="M89.3 414.93h16.13" stroke="#068706"/>
<path d="M105.4 414.93h16.13" stroke="#023d02"/>
<path d="M121.5 414.93h16.13" stroke="#250000"/>
<path d="M137.6 414.93h16.13" stroke="#1b0000"/>
<path d="M153.7 414.93h16.13" stroke="#001100"/>
<path d="M169.8 414.93h16.13" stroke="#6e0000"/>
<path d="M185.8 414.93h16.13" stroke="#2d0000"/>
<path d="M201.9 414.93h16.13" stroke="#560000"/>
<path d="M25.0 416.27h16.13" stroke="#510000"/>
<path d="M41.1 416.27h16.13" stroke="#5a0000"/>
<path d="M57.2 416.27h16.13" stroke="#4e0000"/>
<path d="M73.2 416.27h16.13" stroke="#09a909"/>
<path d="M89.3 416.27h16.13" stroke="#057405"/>
<path d="M105.4 416.27h16.13" stroke="#046704"/>
<path d="M121.5 416.27h16.13" stroke="#3c0000"/>
<path d="M137.6 416.27h16.13" stroke="#270000"/>
<path d="M153.7 416.27h16.13" stroke="#190000"/>
<path d="M169.8 416.27h16.13" stroke="#500000"/>
<path d="M185.8 416.27h16.13" stroke="#160000"/>
<path d="M201.9 416.27h16.13" stroke="#2a0000"/>
<path d="M25.0 417.60h16.13" stroke="#4a0000"/>
<path d="M41.1 417.60h16.13" stroke="#5f0000"/>
<path d="M57.2 417.60h16.13" stroke="#710000"/>
<path d="M73.2 417.60h16.13" stroke="#0bc20b"/>
<path d="M89.3 417.60h16.13" stroke="#0abe0a"/>
<path d="M105.4 417.60h16.13" stroke="#079007"/>
<path d="M121.5 417.60h16.13" stroke="#2f0000"/>
<path d="M137.6 417.60h16.13" stroke="#3b0000"/>
<path d="M153.7 417.60h16.13" stroke="#330000"/>
<path d="M169.8 417.60h16.13" stroke="#500000"/>
<path d="M185.8 417.60h16.13" stroke="#020000"/>
<path d="M201.9 417.60h16.13" stroke="#340000"/>
<path d="M25.0 418.93h16.13" stroke="#590000"/>
<path d="M41.1 418.93h16.13" stroke="#5d0000"/>
<path d="M57.2 418.93h16.13" stroke="#600000"/>
<path d="M73.2 418.93h16.13" stroke="#0bc30b"/>
<path d="M89.3 418.93h16.13" stroke="#057d05"/>
<path d="M105.4 418.93h16.13" stroke="#046904"/>
<path d="M121.5 418.93h16.13" stroke="#410000"/>
<path d="M137.6 418.93h16.13" stroke="#520000"/>
<path d="M153.7 418.93h16.13" stroke="#140000"/>
<path d="M169.8 418.93h16.13" stroke="#190000"/>
<path d="M185.8 418.93h16.13" stroke="#210000"/>
<path d="M201.9 418.93h16.13" stroke="#320000"/>
<path d="M25.0 420.27h16.13" stroke="#450000"/>
<path d="M41.1 420.27h16.13" stroke="#540000"/>
<path d="M57.2 420.27h16.13" stroke="#620000"/>
<path d="M73.2 420.27h16.13" stroke="#079207"/>
<path d="M89.3 420.27h16.13" stroke="#057705"/>
<path d="M105.4 420.27h16.13" stroke="#057205"/>
<path d="M121.5 420.27h16.13" stroke="#001600"/>
<path d="M137.6 420.27h16.13" stroke="#000400"/>
<path d="M153.7 420.27h16.13" stroke="#000200"/>
<path d="M169.8 420.27h16.13" stroke="#2f0000"/>
<path d="M185.8 420.27h16.13" stroke="#1b0000"/>
<path d="M201.9 420.27h16.13" stroke="#070000"/>
<path d="M25.0 421.60h16.13" stroke="#3d0000"/>
<path d="M41.1 421.60h16.13" stroke="#590000"/>
<path d="M57.2 421.60h16.13" stroke="#560000"/>
<path d="M73.2 421.60h16.13" stroke="#079307"/>
<path d="M89.3 421.60h16.13" stroke="#057905"/>
<path d="M105.4 421.60h16.13" stroke="#046204"/>
<path d="M121.5 421.60h16.13" stroke="#000300"/>
<path d="M137.6 421.60h16.13" stroke="#0a0000"/>
<path d="M153.7 421.60h16.13" stroke="#080000"/>
<path d="M169.8 421.60h16.13" stroke="#240000"/>
<path d="M185.8 421.60h16.13" stroke="#000400"/>
<path d="M201.9 421.60h16.13" stroke="#000400"/>
<path d="M25.0 422.93h16.13" stroke="#440000"/>
<path d="M41.1 422.93h16.13" stroke="#510000"/>
<path d="M57.2 422.93h16.13" stroke="#390000"/>
<path d="M73.2 422.93h16.13" stroke="#057a05"/>
<path d="M89.3 422.93h16.13" stroke="#068606"/>
<path d="M105.4 422.93h16.13" stroke="#057d05"/>
<path d="M121.5 422.93h16.13" stroke="#012701"/>
<path d="M137.6 422.93h16.13" stroke="#000a00"/>
<path d="M153.7 422.93h16.13" stroke="#290000"/>
<path d="M169.8 422.93h16.13" stroke="#160000"/>
<path d="M185.8 422.93h16.13" stroke="#000800"/>
<path d="M201.9 422.93h16.13" stroke="#110000"/>
<path d="M25.0 424.27h16.13" stroke="#700000"/>
<path d="M41.1 424.27h16.13" stroke="#2b0000"/>
<path d="M57.2 424.27h16.13" stroke="#320000"/>
<path d="M73.2 424.27h16.13" stroke="#024402"/>
<path d="M89.3 424.27h16.13" stroke="#079607"/>
<path d="M105.4 424.27h16.13" stroke="#068906"/>
<path d="M121.5 424.27h16.13" stroke="#001b00"/>
<path d="M137.6 424.27h16.13" stroke="#3f0000"/>
<path d="M153.7 424.27h16.13" stroke="#200000"/>
<path d="M169.8 424.27h16.13" stroke="#001500"/>
<path d="M185.8 424.27h16.13" stroke="#012301"/>
<path d="M201.9 424.27h16.13" stroke="#013501"/>
<path d="M25.0 425.60h16.13" stroke="#6f0000"/>
<path d="M41.1 425.60h16.13" stroke="#3d0000"/>
<path d="M57.2 425.60h16.13" stroke="#4b0000"/>
<path d="M73.2 425.60h16.13" stroke="#012a01"/>
<path d="M89.3 425.60h16.13" stroke="#068006"/>
<path d="M105.4 425.60h16.13" stroke="#024702"/>
<path d="M121.5 425.60h16.13" stroke="#001000"/>
<path d="M137.6 425.60h16.13" stroke="#020000"/>
<path d="M153.7 425.60h16.13" stroke="#000400"/>
<path d="M169.8 425.60h16.13" stroke="#012601"/>
<path d="M185.8 425.60h16.13" stroke="#024002"/>
<path d="M201.9 425.60h16.13" stroke="#024202"/>
<path d="M25.0 426.93h16.13" stroke="#5f0000"/>
<path d="M41.1 426.93h16.13" stroke="#5d0000"/>
<path d="M57.2 426.93h16.13" stroke="#290000"/>
<path d="M73.2 426.93h16.13" stroke="#012001"/>
<path d="M89.3 426.93h16.13" stroke="#057905"/>
<path d="M105.4 426.93h16.13" stroke="#068606"/>
<path d="M121.5 426.93h16.13" stroke="#000200"/>
<path d="M137.6 426.93h16.13" stroke="#170000"/>
<path d="M153.7 426.93h16.13" stroke="#000700"/>
<path d="M169.8 426.93h16.13" stroke="#000100"/>
<path d="M185.8 426.93h16.13" stroke="#013501"/>
<path d="M201.9 426.93h16.13" stroke="#012301"/>
<path d="M25.0 428.27h16.13" stroke="#1e0000"/>
<path d="M41.1 428.27h16.13" stroke="#4b0000"/>
<path d="M57.2 428.27h16.13" stroke="#200000"/>
<path d="M73.2 428.27h16.13" stroke="#001a00"/>
<path d="M89.3 428.27h16.13" stroke="#060000"/>
<path d="M105.4 428.27h16.13" stroke="#000500"/>
<path d="M121.5 428.27h16.13" stroke="#560000"/>
<path d="M137.6 428.27h16.13" stroke="#570000"/>
<path d="M153.7 428.27h16.13" stroke="#220000"/>
<path d="M169.8 428.27h16.13" stroke="#08a108"/>
<path d="M185.8 428.27h16.13" stroke="#057805"/>
<path d="M201.9 428.27h16.13" stroke="#035a03"/>
<path d="M25.0 429.60h16.13" stroke="#300000"/>
<path d="M41.1 429.60h16.13" stroke="#480000"/>
<path d="M57.2 429.60h16.13" stroke="#2c0000"/>
<path d="M73.2 429.60h16.13" stroke="#012d01"/>
<path d="M89.3 429.60h16.13" stroke="#1b0000"/>
<path d="M105.4 429.60h16.13" stroke="#160000"/>
<path d="M121.5 429.60h16.13" stroke="#3f0000"/>
<path d="M137.6 429.60h16.13" stroke="#570000"/>
<path d="M153.7 429.60h16.13" stroke="#170000"/>
<path d="M169.8 429.60h16.13" stroke="#079907"/>
<path d="M185.8 429.60h16.13" stroke="#035503"/>
<path d="M201.9 429.60h16.13" stroke="#013401"/>
<path d="M25.0 430.93h16.13" stroke="#210000"/>
<path d="M41.1 430.93h16.13" stroke="#1e0000"/>
<path d="M57.2 430.93h16.13" stroke="#1b0000"/>
<path d="M73.2 430.93h16.13" stroke="#000800"/>
<path d="M89.3 430.93h16.13" stroke="#000800"/>
<path d="M105.4 430.93h16.13" stroke="#000000"/>
<path d="M121.5 430.93h16.13" stroke="#240000"/>
<path d="M137.6 430.93h16.13" stroke="#1b0000"/>
<path d="M153.7 430.93h16.13" stroke="#330000"/>
<path d="M169.8 430.93h16.13" stroke="#079707"/>
<path d="M185.8 430.93h16.13" stroke="#057905"/>
<path d="M201.9 430.93h16.13" stroke="#046804"/>
<path d="M25.0 432.27h16.13" stroke="#380000"/>
<path d="M41.1 432.27h16.13" stroke="#000300"/>
<path d="M57.2 432.27h16.13" stroke="#3a0000"/>
<path d="M73.2 432.27h16.13" stroke="#200000"/>
<path d="M89.3 432.27h16.13" stroke="#150000"/>
<path d="M105.4 432.27h16.13" stroke="#6b0000"/>
<path d="M121.5 432.27h16.13" stroke="#210000"/>
<path d="M137.6 432.27h16.13" stroke="#3c0000"/>
<path d="M153.7 432.27h16.13" stroke="#4e0000"/>
<path d="M169.8 432.27h16.13" stroke="#057b05"/>
<path d="M185.8 432.27h16.13" stroke="#0cce0c"/>
<path d="M201.9 432.27h16.13" stroke="#068306"/>
<path d="M25.0 433.60h16.13" stroke="#110000"/>
<path d="M41.1 433.60h16.13" stroke="#320000"/>
<path d="M57.2 433.60h16.13" stroke="#430000"/>
<path d="M73.2 433.60h16.13" stroke="#3d0000"/>
<path d="M89.3 433.60h16.13" stroke="#310000"/>
<path d="M105.4 433.60h16.13" stroke="#410000"/>
<path d="M121.5 433.60h16.13" stroke="#4b0000"/>
<path d="M137.6 433.60h16.13" stroke="#1c0000"/>
<path d="M153.7 433.60h16.13" stroke="#3d0000"/>
<path d="M169.8 433.60h16.13" stroke="#0ab30a"/>
<path d="M185.8 433.60h16.13" stroke="#0bc70b"/>
<path d="M201.9 433.60h16.13" stroke="#08a008"/>
<path d="M25.0 434.93h16.13" stroke="#3a0000"/>
<path d="M41.1 434.93h16.13" stroke="#190000"/>
<path d="M57.2 434.93h16.13" stroke="#140000"/>
<path d="M73.2 434.93h16.13" stroke="#4f0000"/>
<path d="M89.3 434.93h16.13" stroke="#250000"/>
<path d="M105.4 434.93h16.13" stroke="#460000"/>
<path d="M121.5 434.93h16.13" stroke="#1d0000"/>
<path d="M137.6 434.93h16.13" stroke="#0f0000"/>
<path d="M153.7 434.93h16.13" stroke="#4c0000"/>
<path d="M169.8 434.93h16.13" stroke="#08a408"/>
<path d="M185.8 434.93h16.13" stroke="#0ccc0c"/>
<path d="M201.9 434.93h16.13" stroke="#067f06"/>
</g>
<rect x="25.5" y="438.8" width="44.0" height="3.7" fill="#8c8c8c"/>
<rect x="75.0" y="438.8" width="44.3" height="3.7" fill="#8c8c8c"/>
<rect x="124.3" y="438.0" width="44.5" height="3.8" fill="#8c8c8c"/>
<rect x="173.8" y="438.0" width="44.5" height="3.8" fill="#8c8c8c"/>
<text class="dj" font-size="10.1" x="28.0" y="455.0" textLength="39.7" lengthAdjust="spacingAndGlyphs" stroke="#000" stroke-width="0.5">WT HSC</text>
<text class="dj" font-size="10.1" x="77.5" y="455.0" textLength="37.6" lengthAdjust="spacingAndGlyphs" stroke="#000" stroke-width="0.5">KO HSC</text>
<text class="dj" font-size="10.1" x="127.5" y="453.8" textLength="38.4" lengthAdjust="spacingAndGlyphs" stroke="#000" stroke-width="0.5">KO Prog</text>
<text class="dj" font-size="10.1" x="177.0" y="453.8" textLength="40.7" lengthAdjust="spacingAndGlyphs" stroke="#000" stroke-width="0.5">WT Prog</text>
<defs><linearGradient id="key" x1="0" x2="1" y1="0" y2="0"><stop offset="0" stop-color="#00f000"/><stop offset="0.485" stop-color="#000"/><stop offset="1" stop-color="#ff0000"/></linearGradient></defs>
<rect x="459.2" y="13.1" width="57.7" height="13.2" fill="url(#key)"/>
<path class="ln" stroke-width="1.1" d="M459.2 26.4H516.9"/>
<path class="ln" stroke-width="1.2" d="M467.1 26.4V31.3"/>
<path class="ln" stroke-width="1.2" d="M477.0 26.4V31.3"/>
<path class="ln" stroke-width="1.2" d="M487.2 26.4V31.3"/>
<path class="ln" stroke-width="1.2" d="M497.2 26.4V31.3"/>
<path class="ln" stroke-width="1.2" d="M507.2 26.4V31.3"/>
<text font-size="8.2" font-weight="bold" x="463.3" y="43.2" textLength="8.4" lengthAdjust="spacingAndGlyphs">−2</text>
<text font-size="8.2" font-weight="bold" x="485.2" y="43.2" textLength="4.6" lengthAdjust="spacingAndGlyphs">0</text>
<text font-size="8.2" font-weight="bold" x="505.3" y="43.2" textLength="4.4" lengthAdjust="spacingAndGlyphs">2</text>
<text font-size="10.6" x="456.6" y="52.4" textLength="63.6" lengthAdjust="spacingAndGlyphs" stroke="#000" stroke-width="0.4">Row Z–Score</text>
<g id="cheat" shape-rendering="crispEdges" fill="none" filter="url(#bl2)" stroke-width="6.28">
<path d="M280.30 67.11h16.94" stroke="#024902"/>
<path d="M297.19 67.11h16.94" stroke="#024902"/>
<path d="M314.08 67.11h16.94" stroke="#046004"/>
<path d="M330.98 67.11h16.94" stroke="#024902"/>
<path d="M347.87 67.11h16.94" stroke="#057805"/>
<path d="M364.76 67.11h16.94" stroke="#057805"/>
<path d="M381.65 67.11h16.94" stroke="#7a0000"/>
<path d="M398.54 67.11h16.94" stroke="#cd0000"/>
<path d="M415.43 67.11h16.94" stroke="#b10000"/>
<path d="M432.32 67.11h16.94" stroke="#000000"/>
<path d="M449.22 67.11h16.94" stroke="#460000"/>
<path d="M466.11 67.11h16.94" stroke="#7a0000"/>
<path d="M280.30 73.33h16.94" stroke="#013301"/>
<path d="M297.19 73.33h16.94" stroke="#011e01"/>
<path d="M314.08 73.33h16.94" stroke="#046004"/>
<path d="M330.98 73.33h16.94" stroke="#024902"/>
<path d="M347.87 73.33h16.94" stroke="#057805"/>
<path d="M364.76 73.33h16.94" stroke="#09ad09"/>
<path d="M381.65 73.33h16.94" stroke="#600000"/>
<path d="M398.54 73.33h16.94" stroke="#cd0000"/>
<path d="M415.43 73.33h16.94" stroke="#b10000"/>
<path d="M432.32 73.33h16.94" stroke="#150000"/>
<path d="M449.22 73.33h16.94" stroke="#000000"/>
<path d="M466.11 73.33h16.94" stroke="#600000"/>
<path d="M280.30 79.55h16.94" stroke="#09ad09"/>
<path d="M297.19 79.55h16.94" stroke="#024902"/>
<path d="M314.08 79.55h16.94" stroke="#011e01"/>
<path d="M330.98 79.55h16.94" stroke="#057805"/>
<path d="M347.87 79.55h16.94" stroke="#057805"/>
<path d="M364.76 79.55h16.94" stroke="#057805"/>
<path d="M381.65 79.55h16.94" stroke="#7a0000"/>
<path d="M398.54 79.55h16.94" stroke="#e40000"/>
<path d="M415.43 79.55h16.94" stroke="#b10000"/>
<path d="M432.32 79.55h16.94" stroke="#2d0000"/>
<path d="M449.22 79.55h16.94" stroke="#2d0000"/>
<path d="M466.11 79.55h16.94" stroke="#150000"/>
<path d="M280.30 85.77h16.94" stroke="#079207"/>
<path d="M297.19 85.77h16.94" stroke="#057805"/>
<path d="M314.08 85.77h16.94" stroke="#057805"/>
<path d="M330.98 85.77h16.94" stroke="#013301"/>
<path d="M347.87 85.77h16.94" stroke="#024902"/>
<path d="M364.76 85.77h16.94" stroke="#057805"/>
<path d="M381.65 85.77h16.94" stroke="#cd0000"/>
<path d="M398.54 85.77h16.94" stroke="#cd0000"/>
<path d="M415.43 85.77h16.94" stroke="#7a0000"/>
<path d="M432.32 85.77h16.94" stroke="#150000"/>
<path d="M449.22 85.77h16.94" stroke="#150000"/>
<path d="M466.11 85.77h16.94" stroke="#7a0000"/>
<path d="M280.30 91.99h16.94" stroke="#013301"/>
<path d="M297.19 91.99h16.94" stroke="#024902"/>
<path d="M314.08 91.99h16.94" stroke="#011e01"/>
<path d="M330.98 91.99h16.94" stroke="#057805"/>
<path d="M347.87 91.99h16.94" stroke="#057805"/>
<path d="M364.76 91.99h16.94" stroke="#057805"/>
<path d="M381.65 91.99h16.94" stroke="#960000"/>
<path d="M398.54 91.99h16.94" stroke="#b10000"/>
<path d="M415.43 91.99h16.94" stroke="#b10000"/>
<path d="M432.32 91.99h16.94" stroke="#460000"/>
<path d="M449.22 91.99h16.94" stroke="#013301"/>
<path d="M466.11 91.99h16.94" stroke="#7a0000"/>
<path d="M280.30 98.21h16.94" stroke="#000d00"/>
<path d="M297.19 98.21h16.94" stroke="#079207"/>
<path d="M314.08 98.21h16.94" stroke="#011e01"/>
<path d="M330.98 98.21h16.94" stroke="#057805"/>
<path d="M347.87 98.21h16.94" stroke="#079207"/>
<path d="M364.76 98.21h16.94" stroke="#024902"/>
<path d="M381.65 98.21h16.94" stroke="#cd0000"/>
<path d="M398.54 98.21h16.94" stroke="#960000"/>
<path d="M415.43 98.21h16.94" stroke="#cd0000"/>
<path d="M432.32 98.21h16.94" stroke="#460000"/>
<path d="M449.22 98.21h16.94" stroke="#011e01"/>
<path d="M466.11 98.21h16.94" stroke="#7a0000"/>
<path d="M280.30 104.43h16.94" stroke="#09ad09"/>
<path d="M297.19 104.43h16.94" stroke="#011e01"/>
<path d="M314.08 104.43h16.94" stroke="#011e01"/>
<path d="M330.98 104.43h16.94" stroke="#057805"/>
<path d="M347.87 104.43h16.94" stroke="#000000"/>
<path d="M364.76 104.43h16.94" stroke="#024902"/>
<path d="M381.65 104.43h16.94" stroke="#b10000"/>
<path d="M398.54 104.43h16.94" stroke="#960000"/>
<path d="M415.43 104.43h16.94" stroke="#e40000"/>
<path d="M432.32 104.43h16.94" stroke="#150000"/>
<path d="M449.22 104.43h16.94" stroke="#057805"/>
<path d="M466.11 104.43h16.94" stroke="#7a0000"/>
<path d="M280.30 110.65h16.94" stroke="#057805"/>
<path d="M297.19 110.65h16.94" stroke="#024902"/>
<path d="M314.08 110.65h16.94" stroke="#09ad09"/>
<path d="M330.98 110.65h16.94" stroke="#000000"/>
<path d="M347.87 110.65h16.94" stroke="#013301"/>
<path d="M364.76 110.65h16.94" stroke="#000000"/>
<path d="M381.65 110.65h16.94" stroke="#b10000"/>
<path d="M398.54 110.65h16.94" stroke="#b10000"/>
<path d="M415.43 110.65h16.94" stroke="#e40000"/>
<path d="M432.32 110.65h16.94" stroke="#000d00"/>
<path d="M449.22 110.65h16.94" stroke="#046004"/>
<path d="M466.11 110.65h16.94" stroke="#7a0000"/>
<path d="M280.30 116.87h16.94" stroke="#024902"/>
<path d="M297.19 116.87h16.94" stroke="#150000"/>
<path d="M314.08 116.87h16.94" stroke="#024902"/>
<path d="M330.98 116.87h16.94" stroke="#079207"/>
<path d="M347.87 116.87h16.94" stroke="#013301"/>
<path d="M364.76 116.87h16.94" stroke="#024902"/>
<path d="M381.65 116.87h16.94" stroke="#7a0000"/>
<path d="M398.54 116.87h16.94" stroke="#b10000"/>
<path d="M415.43 116.87h16.94" stroke="#e40000"/>
<path d="M432.32 116.87h16.94" stroke="#079207"/>
<path d="M449.22 116.87h16.94" stroke="#150000"/>
<path d="M466.11 116.87h16.94" stroke="#150000"/>
<path d="M280.30 123.09h16.94" stroke="#600000"/>
<path d="M297.19 123.09h16.94" stroke="#011e01"/>
<path d="M314.08 123.09h16.94" stroke="#024902"/>
<path d="M330.98 123.09h16.94" stroke="#024902"/>
<path d="M347.87 123.09h16.94" stroke="#013301"/>
<path d="M364.76 123.09h16.94" stroke="#024902"/>
<path d="M381.65 123.09h16.94" stroke="#960000"/>
<path d="M398.54 123.09h16.94" stroke="#7a0000"/>
<path d="M415.43 123.09h16.94" stroke="#e40000"/>
<path d="M432.32 123.09h16.94" stroke="#0ee40e"/>
<path d="M449.22 123.09h16.94" stroke="#150000"/>
<path d="M466.11 123.09h16.94" stroke="#150000"/>
<path d="M280.30 129.31h16.94" stroke="#0bc80b"/>
<path d="M297.19 129.31h16.94" stroke="#057805"/>
<path d="M314.08 129.31h16.94" stroke="#057805"/>
<path d="M330.98 129.31h16.94" stroke="#960000"/>
<path d="M347.87 129.31h16.94" stroke="#011e01"/>
<path d="M364.76 129.31h16.94" stroke="#2d0000"/>
<path d="M381.65 129.31h16.94" stroke="#cd0000"/>
<path d="M398.54 129.31h16.94" stroke="#960000"/>
<path d="M415.43 129.31h16.94" stroke="#960000"/>
<path d="M432.32 129.31h16.94" stroke="#079207"/>
<path d="M449.22 129.31h16.94" stroke="#150000"/>
<path d="M466.11 129.31h16.94" stroke="#150000"/>
<path d="M280.30 135.53h16.94" stroke="#0bc80b"/>
<path d="M297.19 135.53h16.94" stroke="#046004"/>
<path d="M314.08 135.53h16.94" stroke="#046004"/>
<path d="M330.98 135.53h16.94" stroke="#960000"/>
<path d="M347.87 135.53h16.94" stroke="#7a0000"/>
<path d="M364.76 135.53h16.94" stroke="#2d0000"/>
<path d="M381.65 135.53h16.94" stroke="#cd0000"/>
<path d="M398.54 135.53h16.94" stroke="#960000"/>
<path d="M415.43 135.53h16.94" stroke="#7a0000"/>
<path d="M432.32 135.53h16.94" stroke="#09ad09"/>
<path d="M449.22 135.53h16.94" stroke="#150000"/>
<path d="M466.11 135.53h16.94" stroke="#000000"/>
<path d="M280.30 141.75h16.94" stroke="#0bc80b"/>
<path d="M297.19 141.75h16.94" stroke="#046004"/>
<path d="M314.08 141.75h16.94" stroke="#000d00"/>
<path d="M330.98 141.75h16.94" stroke="#600000"/>
<path d="M347.87 141.75h16.94" stroke="#011e01"/>
<path d="M364.76 141.75h16.94" stroke="#000000"/>
<path d="M381.65 141.75h16.94" stroke="#cd0000"/>
<path d="M398.54 141.75h16.94" stroke="#960000"/>
<path d="M415.43 141.75h16.94" stroke="#cd0000"/>
<path d="M432.32 141.75h16.94" stroke="#0bc80b"/>
<path d="M449.22 141.75h16.94" stroke="#011e01"/>
<path d="M466.11 141.75h16.94" stroke="#2d0000"/>
<path d="M280.30 147.97h16.94" stroke="#0bc80b"/>
<path d="M297.19 147.97h16.94" stroke="#024902"/>
<path d="M314.08 147.97h16.94" stroke="#000d00"/>
<path d="M330.98 147.97h16.94" stroke="#cd0000"/>
<path d="M347.87 147.97h16.94" stroke="#000d00"/>
<path d="M364.76 147.97h16.94" stroke="#960000"/>
<path d="M381.65 147.97h16.94" stroke="#7a0000"/>
<path d="M398.54 147.97h16.94" stroke="#600000"/>
<path d="M415.43 147.97h16.94" stroke="#7a0000"/>
<path d="M432.32 147.97h16.94" stroke="#0bc80b"/>
<path d="M449.22 147.97h16.94" stroke="#2d0000"/>
<path d="M466.11 147.97h16.94" stroke="#460000"/>
<path d="M280.30 154.19h16.94" stroke="#0ee40e"/>
<path d="M297.19 154.19h16.94" stroke="#046004"/>
<path d="M314.08 154.19h16.94" stroke="#046004"/>
<path d="M330.98 154.19h16.94" stroke="#600000"/>
<path d="M347.87 154.19h16.94" stroke="#000d00"/>
<path d="M364.76 154.19h16.94" stroke="#2d0000"/>
<path d="M381.65 154.19h16.94" stroke="#7a0000"/>
<path d="M398.54 154.19h16.94" stroke="#7a0000"/>
<path d="M415.43 154.19h16.94" stroke="#7a0000"/>
<path d="M432.32 154.19h16.94" stroke="#09ad09"/>
<path d="M449.22 154.19h16.94" stroke="#460000"/>
<path d="M466.11 154.19h16.94" stroke="#b10000"/>
<path d="M280.30 160.42h16.94" stroke="#057805"/>
<path d="M297.19 160.42h16.94" stroke="#0ee40e"/>
<path d="M314.08 160.42h16.94" stroke="#000000"/>
<path d="M330.98 160.42h16.94" stroke="#7a0000"/>
<path d="M347.87 160.42h16.94" stroke="#150000"/>
<path d="M364.76 160.42h16.94" stroke="#011e01"/>
<path d="M381.65 160.42h16.94" stroke="#b10000"/>
<path d="M398.54 160.42h16.94" stroke="#2d0000"/>
<path d="M415.43 160.42h16.94" stroke="#460000"/>
<path d="M432.32 160.42h16.94" stroke="#046004"/>
<path d="M449.22 160.42h16.94" stroke="#460000"/>
<path d="M466.11 160.42h16.94" stroke="#600000"/>
<path d="M280.30 166.64h16.94" stroke="#000000"/>
<path d="M297.19 166.64h16.94" stroke="#0ee40e"/>
<path d="M314.08 166.64h16.94" stroke="#057805"/>
<path d="M330.98 166.64h16.94" stroke="#7a0000"/>
<path d="M347.87 166.64h16.94" stroke="#2d0000"/>
<path d="M364.76 166.64h16.94" stroke="#e40000"/>
<path d="M381.65 166.64h16.94" stroke="#024902"/>
<path d="M398.54 166.64h16.94" stroke="#600000"/>
<path d="M415.43 166.64h16.94" stroke="#600000"/>
<path d="M432.32 166.64h16.94" stroke="#460000"/>
<path d="M449.22 166.64h16.94" stroke="#460000"/>
<path d="M466.11 166.64h16.94" stroke="#057805"/>
<path d="M280.30 172.86h16.94" stroke="#024902"/>
<path d="M297.19 172.86h16.94" stroke="#0ee40e"/>
<path d="M314.08 172.86h16.94" stroke="#046004"/>
<path d="M330.98 172.86h16.94" stroke="#150000"/>
<path d="M347.87 172.86h16.94" stroke="#046004"/>
<path d="M364.76 172.86h16.94" stroke="#cd0000"/>
<path d="M381.65 172.86h16.94" stroke="#024902"/>
<path d="M398.54 172.86h16.94" stroke="#460000"/>
<path d="M415.43 172.86h16.94" stroke="#600000"/>
<path d="M432.32 172.86h16.94" stroke="#2d0000"/>
<path d="M449.22 172.86h16.94" stroke="#460000"/>
<path d="M466.11 172.86h16.94" stroke="#460000"/>
<path d="M280.30 179.08h16.94" stroke="#057805"/>
<path d="M297.19 179.08h16.94" stroke="#057805"/>
<path d="M314.08 179.08h16.94" stroke="#057805"/>
<path d="M330.98 179.08h16.94" stroke="#000000"/>
<path d="M347.87 179.08h16.94" stroke="#057805"/>
<path d="M364.76 179.08h16.94" stroke="#024902"/>
<path d="M381.65 179.08h16.94" stroke="#000000"/>
<path d="M398.54 179.08h16.94" stroke="#000d00"/>
<path d="M415.43 179.08h16.94" stroke="#460000"/>
<path d="M432.32 179.08h16.94" stroke="#b10000"/>
<path d="M449.22 179.08h16.94" stroke="#b10000"/>
<path d="M466.11 179.08h16.94" stroke="#960000"/>
<path d="M280.30 185.30h16.94" stroke="#046004"/>
<path d="M297.19 185.30h16.94" stroke="#057805"/>
<path d="M314.08 185.30h16.94" stroke="#079207"/>
<path d="M330.98 185.30h16.94" stroke="#046004"/>
<path d="M347.87 185.30h16.94" stroke="#024902"/>
<path d="M364.76 185.30h16.94" stroke="#013301"/>
<path d="M381.65 185.30h16.94" stroke="#460000"/>
<path d="M398.54 185.30h16.94" stroke="#600000"/>
<path d="M415.43 185.30h16.94" stroke="#150000"/>
<path d="M432.32 185.30h16.94" stroke="#cd0000"/>
<path d="M449.22 185.30h16.94" stroke="#7a0000"/>
<path d="M466.11 185.30h16.94" stroke="#960000"/>
<path d="M280.30 191.52h16.94" stroke="#057805"/>
<path d="M297.19 191.52h16.94" stroke="#09ad09"/>
<path d="M314.08 191.52h16.94" stroke="#0bc80b"/>
<path d="M330.98 191.52h16.94" stroke="#013301"/>
<path d="M347.87 191.52h16.94" stroke="#013301"/>
<path d="M364.76 191.52h16.94" stroke="#000000"/>
<path d="M381.65 191.52h16.94" stroke="#600000"/>
<path d="M398.54 191.52h16.94" stroke="#600000"/>
<path d="M415.43 191.52h16.94" stroke="#600000"/>
<path d="M432.32 191.52h16.94" stroke="#960000"/>
<path d="M449.22 191.52h16.94" stroke="#600000"/>
<path d="M466.11 191.52h16.94" stroke="#7a0000"/>
<path d="M280.30 197.74h16.94" stroke="#024902"/>
<path d="M297.19 197.74h16.94" stroke="#09ad09"/>
<path d="M314.08 197.74h16.94" stroke="#0bc80b"/>
<path d="M330.98 197.74h16.94" stroke="#2d0000"/>
<path d="M347.87 197.74h16.94" stroke="#000d00"/>
<path d="M364.76 197.74h16.94" stroke="#600000"/>
<path d="M381.65 197.74h16.94" stroke="#600000"/>
<path d="M398.54 197.74h16.94" stroke="#600000"/>
<path d="M415.43 197.74h16.94" stroke="#013301"/>
<path d="M432.32 197.74h16.94" stroke="#960000"/>
<path d="M449.22 197.74h16.94" stroke="#600000"/>
<path d="M466.11 197.74h16.94" stroke="#7a0000"/>
<path d="M280.30 203.96h16.94" stroke="#024902"/>
<path d="M297.19 203.96h16.94" stroke="#057805"/>
<path d="M314.08 203.96h16.94" stroke="#057805"/>
<path d="M330.98 203.96h16.94" stroke="#460000"/>
<path d="M347.87 203.96h16.94" stroke="#013301"/>
<path d="M364.76 203.96h16.94" stroke="#150000"/>
<path d="M381.65 203.96h16.94" stroke="#150000"/>
<path d="M398.54 203.96h16.94" stroke="#000d00"/>
<path d="M415.43 203.96h16.94" stroke="#079207"/>
<path d="M432.32 203.96h16.94" stroke="#600000"/>
<path d="M449.22 203.96h16.94" stroke="#e40000"/>
<path d="M466.11 203.96h16.94" stroke="#b10000"/>
<path d="M280.30 210.18h16.94" stroke="#046004"/>
<path d="M297.19 210.18h16.94" stroke="#046004"/>
<path d="M314.08 210.18h16.94" stroke="#013301"/>
<path d="M330.98 210.18h16.94" stroke="#013301"/>
<path d="M347.87 210.18h16.94" stroke="#000000"/>
<path d="M364.76 210.18h16.94" stroke="#024902"/>
<path d="M381.65 210.18h16.94" stroke="#150000"/>
<path d="M398.54 210.18h16.94" stroke="#079207"/>
<path d="M415.43 210.18h16.94" stroke="#2d0000"/>
<path d="M432.32 210.18h16.94" stroke="#600000"/>
<path d="M449.22 210.18h16.94" stroke="#e40000"/>
<path d="M466.11 210.18h16.94" stroke="#b10000"/>
<path d="M280.30 216.40h16.94" stroke="#013301"/>
<path d="M297.19 216.40h16.94" stroke="#0ee40e"/>
<path d="M314.08 216.40h16.94" stroke="#150000"/>
<path d="M330.98 216.40h16.94" stroke="#011e01"/>
<path d="M347.87 216.40h16.94" stroke="#011e01"/>
<path d="M364.76 216.40h16.94" stroke="#2d0000"/>
<path d="M381.65 216.40h16.94" stroke="#011e01"/>
<path d="M398.54 216.40h16.94" stroke="#079207"/>
<path d="M415.43 216.40h16.94" stroke="#2d0000"/>
<path d="M432.32 216.40h16.94" stroke="#b10000"/>
<path d="M449.22 216.40h16.94" stroke="#cd0000"/>
<path d="M466.11 216.40h16.94" stroke="#7a0000"/>
<path d="M280.30 222.62h16.94" stroke="#046004"/>
<path d="M297.19 222.62h16.94" stroke="#150000"/>
<path d="M314.08 222.62h16.94" stroke="#000000"/>
<path d="M330.98 222.62h16.94" stroke="#046004"/>
<path d="M347.87 222.62h16.94" stroke="#011e01"/>
<path d="M364.76 222.62h16.94" stroke="#150000"/>
<path d="M381.65 222.62h16.94" stroke="#000000"/>
<path d="M398.54 222.62h16.94" stroke="#079207"/>
<path d="M415.43 222.62h16.94" stroke="#013301"/>
<path d="M432.32 222.62h16.94" stroke="#e40000"/>
<path d="M449.22 222.62h16.94" stroke="#cd0000"/>
<path d="M466.11 222.62h16.94" stroke="#013301"/>
<path d="M280.30 228.84h16.94" stroke="#000000"/>
<path d="M297.19 228.84h16.94" stroke="#150000"/>
<path d="M314.08 228.84h16.94" stroke="#057805"/>
<path d="M330.98 228.84h16.94" stroke="#460000"/>
<path d="M347.87 228.84h16.94" stroke="#046004"/>
<path d="M364.76 228.84h16.94" stroke="#057805"/>
<path d="M381.65 228.84h16.94" stroke="#046004"/>
<path d="M398.54 228.84h16.94" stroke="#000000"/>
<path d="M415.43 228.84h16.94" stroke="#013301"/>
<path d="M432.32 228.84h16.94" stroke="#600000"/>
<path d="M449.22 228.84h16.94" stroke="#e40000"/>
<path d="M466.11 228.84h16.94" stroke="#000d00"/>
<path d="M280.30 235.06h16.94" stroke="#000d00"/>
<path d="M297.19 235.06h16.94" stroke="#024902"/>
<path d="M314.08 235.06h16.94" stroke="#000000"/>
<path d="M330.98 235.06h16.94" stroke="#000000"/>
<path d="M347.87 235.06h16.94" stroke="#079207"/>
<path d="M364.76 235.06h16.94" stroke="#0ee40e"/>
<path d="M381.65 235.06h16.94" stroke="#150000"/>
<path d="M398.54 235.06h16.94" stroke="#150000"/>
<path d="M415.43 235.06h16.94" stroke="#011e01"/>
<path d="M432.32 235.06h16.94" stroke="#460000"/>
<path d="M449.22 235.06h16.94" stroke="#960000"/>
<path d="M466.11 235.06h16.94" stroke="#cd0000"/>
<path d="M280.30 241.28h16.94" stroke="#460000"/>
<path d="M297.19 241.28h16.94" stroke="#046004"/>
<path d="M314.08 241.28h16.94" stroke="#024902"/>
<path d="M330.98 241.28h16.94" stroke="#079207"/>
<path d="M347.87 241.28h16.94" stroke="#2d0000"/>
<path d="M364.76 241.28h16.94" stroke="#079207"/>
<path d="M381.65 241.28h16.94" stroke="#046004"/>
<path d="M398.54 241.28h16.94" stroke="#011e01"/>
<path d="M415.43 241.28h16.94" stroke="#2d0000"/>
<path d="M432.32 241.28h16.94" stroke="#960000"/>
<path d="M449.22 241.28h16.94" stroke="#960000"/>
<path d="M466.11 241.28h16.94" stroke="#e40000"/>
<path d="M280.30 247.50h16.94" stroke="#024902"/>
<path d="M297.19 247.50h16.94" stroke="#150000"/>
<path d="M314.08 247.50h16.94" stroke="#000d00"/>
<path d="M330.98 247.50h16.94" stroke="#0bc80b"/>
<path d="M347.87 247.50h16.94" stroke="#046004"/>
<path d="M364.76 247.50h16.94" stroke="#079207"/>
<path d="M381.65 247.50h16.94" stroke="#460000"/>
<path d="M398.54 247.50h16.94" stroke="#600000"/>
<path d="M415.43 247.50h16.94" stroke="#011e01"/>
<path d="M432.32 247.50h16.94" stroke="#960000"/>
<path d="M449.22 247.50h16.94" stroke="#960000"/>
<path d="M466.11 247.50h16.94" stroke="#600000"/>
<path d="M280.30 253.72h16.94" stroke="#0ee40e"/>
<path d="M297.19 253.72h16.94" stroke="#150000"/>
<path d="M314.08 253.72h16.94" stroke="#024902"/>
<path d="M330.98 253.72h16.94" stroke="#046004"/>
<path d="M347.87 253.72h16.94" stroke="#150000"/>
<path d="M364.76 253.72h16.94" stroke="#011e01"/>
<path d="M381.65 253.72h16.94" stroke="#024902"/>
<path d="M398.54 253.72h16.94" stroke="#150000"/>
<path d="M415.43 253.72h16.94" stroke="#150000"/>
<path d="M432.32 253.72h16.94" stroke="#960000"/>
<path d="M449.22 253.72h16.94" stroke="#960000"/>
<path d="M466.11 253.72h16.94" stroke="#cd0000"/>
<path d="M280.30 259.94h16.94" stroke="#0bc80b"/>
<path d="M297.19 259.94h16.94" stroke="#046004"/>
<path d="M314.08 259.94h16.94" stroke="#011e01"/>
<path d="M330.98 259.94h16.94" stroke="#024902"/>
<path d="M347.87 259.94h16.94" stroke="#000000"/>
<path d="M364.76 259.94h16.94" stroke="#600000"/>
<path d="M381.65 259.94h16.94" stroke="#000000"/>
<path d="M398.54 259.94h16.94" stroke="#600000"/>
<path d="M415.43 259.94h16.94" stroke="#600000"/>
<path d="M432.32 259.94h16.94" stroke="#460000"/>
<path d="M449.22 259.94h16.94" stroke="#460000"/>
<path d="M466.11 259.94h16.94" stroke="#460000"/>
<path d="M280.30 266.16h16.94" stroke="#600000"/>
<path d="M297.19 266.16h16.94" stroke="#600000"/>
<path d="M314.08 266.16h16.94" stroke="#7a0000"/>
<path d="M330.98 266.16h16.94" stroke="#600000"/>
<path d="M347.87 266.16h16.94" stroke="#960000"/>
<path d="M364.76 266.16h16.94" stroke="#960000"/>
<path d="M381.65 266.16h16.94" stroke="#079207"/>
<path d="M398.54 266.16h16.94" stroke="#0bc80b"/>
<path d="M415.43 266.16h16.94" stroke="#079207"/>
<path d="M432.32 266.16h16.94" stroke="#150000"/>
<path d="M449.22 266.16h16.94" stroke="#000d00"/>
<path d="M466.11 266.16h16.94" stroke="#011e01"/>
<path d="M280.30 272.38h16.94" stroke="#000000"/>
<path d="M297.19 272.38h16.94" stroke="#460000"/>
<path d="M314.08 272.38h16.94" stroke="#cd0000"/>
<path d="M330.98 272.38h16.94" stroke="#000000"/>
<path d="M347.87 272.38h16.94" stroke="#960000"/>
<path d="M364.76 272.38h16.94" stroke="#960000"/>
<path d="M381.65 272.38h16.94" stroke="#079207"/>
<path d="M398.54 272.38h16.94" stroke="#079207"/>
<path d="M415.43 272.38h16.94" stroke="#079207"/>
<path d="M432.32 272.38h16.94" stroke="#013301"/>
<path d="M449.22 272.38h16.94" stroke="#150000"/>
<path d="M466.11 272.38h16.94" stroke="#024902"/>
<path d="M280.30 278.60h16.94" stroke="#150000"/>
<path d="M297.19 278.60h16.94" stroke="#b10000"/>
<path d="M314.08 278.60h16.94" stroke="#b10000"/>
<path d="M330.98 278.60h16.94" stroke="#460000"/>
<path d="M347.87 278.60h16.94" stroke="#960000"/>
<path d="M364.76 278.60h16.94" stroke="#960000"/>
<path d="M381.65 278.60h16.94" stroke="#079207"/>
<path d="M398.54 278.60h16.94" stroke="#079207"/>
<path d="M415.43 278.60h16.94" stroke="#079207"/>
<path d="M432.32 278.60h16.94" stroke="#013301"/>
<path d="M449.22 278.60h16.94" stroke="#2d0000"/>
<path d="M466.11 278.60h16.94" stroke="#057805"/>
<path d="M280.30 284.82h16.94" stroke="#2d0000"/>
<path d="M297.19 284.82h16.94" stroke="#960000"/>
<path d="M314.08 284.82h16.94" stroke="#7a0000"/>
<path d="M330.98 284.82h16.94" stroke="#460000"/>
<path d="M347.87 284.82h16.94" stroke="#600000"/>
<path d="M364.76 284.82h16.94" stroke="#7a0000"/>
<path d="M381.65 284.82h16.94" stroke="#0ee40e"/>
<path d="M398.54 284.82h16.94" stroke="#013301"/>
<path d="M415.43 284.82h16.94" stroke="#057805"/>
<path d="M432.32 284.82h16.94" stroke="#013301"/>
<path d="M449.22 284.82h16.94" stroke="#011e01"/>
<path d="M466.11 284.82h16.94" stroke="#000000"/>
<path d="M280.30 291.04h16.94" stroke="#7a0000"/>
<path d="M297.19 291.04h16.94" stroke="#150000"/>
<path d="M314.08 291.04h16.94" stroke="#2d0000"/>
<path d="M330.98 291.04h16.94" stroke="#150000"/>
<path d="M347.87 291.04h16.94" stroke="#7a0000"/>
<path d="M364.76 291.04h16.94" stroke="#7a0000"/>
<path d="M381.65 291.04h16.94" stroke="#079207"/>
<path d="M398.54 291.04h16.94" stroke="#09ad09"/>
<path d="M415.43 291.04h16.94" stroke="#09ad09"/>
<path d="M432.32 291.04h16.94" stroke="#000000"/>
<path d="M449.22 291.04h16.94" stroke="#150000"/>
<path d="M466.11 291.04h16.94" stroke="#460000"/>
<path d="M280.30 297.26h16.94" stroke="#7a0000"/>
<path d="M297.19 297.26h16.94" stroke="#057805"/>
<path d="M314.08 297.26h16.94" stroke="#7a0000"/>
<path d="M330.98 297.26h16.94" stroke="#600000"/>
<path d="M347.87 297.26h16.94" stroke="#7a0000"/>
<path d="M364.76 297.26h16.94" stroke="#7a0000"/>
<path d="M381.65 297.26h16.94" stroke="#079207"/>
<path d="M398.54 297.26h16.94" stroke="#079207"/>
<path d="M415.43 297.26h16.94" stroke="#057805"/>
<path d="M432.32 297.26h16.94" stroke="#013301"/>
<path d="M449.22 297.26h16.94" stroke="#000d00"/>
<path d="M466.11 297.26h16.94" stroke="#2d0000"/>
<path d="M280.30 303.48h16.94" stroke="#150000"/>
<path d="M297.19 303.48h16.94" stroke="#000000"/>
<path d="M314.08 303.48h16.94" stroke="#150000"/>
<path d="M330.98 303.48h16.94" stroke="#600000"/>
<path d="M347.87 303.48h16.94" stroke="#150000"/>
<path d="M364.76 303.48h16.94" stroke="#960000"/>
<path d="M381.65 303.48h16.94" stroke="#0bc80b"/>
<path d="M398.54 303.48h16.94" stroke="#079207"/>
<path d="M415.43 303.48h16.94" stroke="#013301"/>
<path d="M432.32 303.48h16.94" stroke="#600000"/>
<path d="M449.22 303.48h16.94" stroke="#960000"/>
<path d="M466.11 303.48h16.94" stroke="#024902"/>
<path d="M280.30 309.70h16.94" stroke="#000000"/>
<path d="M297.19 309.70h16.94" stroke="#460000"/>
<path d="M314.08 309.70h16.94" stroke="#600000"/>
<path d="M330.98 309.70h16.94" stroke="#150000"/>
<path d="M347.87 309.70h16.94" stroke="#7a0000"/>
<path d="M364.76 309.70h16.94" stroke="#960000"/>
<path d="M381.65 309.70h16.94" stroke="#0bc80b"/>
<path d="M398.54 309.70h16.94" stroke="#079207"/>
<path d="M415.43 309.70h16.94" stroke="#013301"/>
<path d="M432.32 309.70h16.94" stroke="#011e01"/>
<path d="M449.22 309.70h16.94" stroke="#960000"/>
<path d="M466.11 309.70h16.94" stroke="#000d00"/>
<path d="M280.30 315.92h16.94" stroke="#000000"/>
<path d="M297.19 315.92h16.94" stroke="#600000"/>
<path d="M314.08 315.92h16.94" stroke="#960000"/>
<path d="M330.98 315.92h16.94" stroke="#7a0000"/>
<path d="M347.87 315.92h16.94" stroke="#057805"/>
<path d="M364.76 315.92h16.94" stroke="#960000"/>
<path d="M381.65 315.92h16.94" stroke="#0bc80b"/>
<path d="M398.54 315.92h16.94" stroke="#057805"/>
<path d="M415.43 315.92h16.94" stroke="#013301"/>
<path d="M432.32 315.92h16.94" stroke="#600000"/>
<path d="M449.22 315.92h16.94" stroke="#013301"/>
<path d="M466.11 315.92h16.94" stroke="#000000"/>
<path d="M280.30 322.14h16.94" stroke="#011e01"/>
<path d="M297.19 322.14h16.94" stroke="#600000"/>
<path d="M314.08 322.14h16.94" stroke="#7a0000"/>
<path d="M330.98 322.14h16.94" stroke="#2d0000"/>
<path d="M347.87 322.14h16.94" stroke="#057805"/>
<path d="M364.76 322.14h16.94" stroke="#960000"/>
<path d="M381.65 322.14h16.94" stroke="#09ad09"/>
<path d="M398.54 322.14h16.94" stroke="#057805"/>
<path d="M415.43 322.14h16.94" stroke="#024902"/>
<path d="M432.32 322.14h16.94" stroke="#7a0000"/>
<path d="M449.22 322.14h16.94" stroke="#013301"/>
<path d="M466.11 322.14h16.94" stroke="#960000"/>
<path d="M280.30 328.36h16.94" stroke="#960000"/>
<path d="M297.19 328.36h16.94" stroke="#2d0000"/>
<path d="M314.08 328.36h16.94" stroke="#7a0000"/>
<path d="M330.98 328.36h16.94" stroke="#7a0000"/>
<path d="M347.87 328.36h16.94" stroke="#046004"/>
<path d="M364.76 328.36h16.94" stroke="#600000"/>
<path d="M381.65 328.36h16.94" stroke="#046004"/>
<path d="M398.54 328.36h16.94" stroke="#0ee40e"/>
<path d="M415.43 328.36h16.94" stroke="#013301"/>
<path d="M432.32 328.36h16.94" stroke="#2d0000"/>
<path d="M449.22 328.36h16.94" stroke="#011e01"/>
<path d="M466.11 328.36h16.94" stroke="#000000"/>
<path d="M280.30 334.58h16.94" stroke="#b10000"/>
<path d="M297.19 334.58h16.94" stroke="#2d0000"/>
<path d="M314.08 334.58h16.94" stroke="#960000"/>
<path d="M330.98 334.58h16.94" stroke="#057805"/>
<path d="M347.87 334.58h16.94" stroke="#2d0000"/>
<path d="M364.76 334.58h16.94" stroke="#000d00"/>
<path d="M381.65 334.58h16.94" stroke="#09ad09"/>
<path d="M398.54 334.58h16.94" stroke="#024902"/>
<path d="M415.43 334.58h16.94" stroke="#057805"/>
<path d="M432.32 334.58h16.94" stroke="#600000"/>
<path d="M449.22 334.58h16.94" stroke="#600000"/>
<path d="M466.11 334.58h16.94" stroke="#2d0000"/>
<path d="M280.30 340.81h16.94" stroke="#7a0000"/>
<path d="M297.19 340.81h16.94" stroke="#460000"/>
<path d="M314.08 340.81h16.94" stroke="#460000"/>
<path d="M330.98 340.81h16.94" stroke="#057805"/>
<path d="M347.87 340.81h16.94" stroke="#960000"/>
<path d="M364.76 340.81h16.94" stroke="#000d00"/>
<path d="M381.65 340.81h16.94" stroke="#09ad09"/>
<path d="M398.54 340.81h16.94" stroke="#079207"/>
<path d="M415.43 340.81h16.94" stroke="#079207"/>
<path d="M432.32 340.81h16.94" stroke="#600000"/>
<path d="M449.22 340.81h16.94" stroke="#460000"/>
<path d="M466.11 340.81h16.94" stroke="#600000"/>
<path d="M280.30 347.03h16.94" stroke="#600000"/>
<path d="M297.19 347.03h16.94" stroke="#460000"/>
<path d="M314.08 347.03h16.94" stroke="#460000"/>
<path d="M330.98 347.03h16.94" stroke="#046004"/>
<path d="M347.87 347.03h16.94" stroke="#7a0000"/>
<path d="M364.76 347.03h16.94" stroke="#000d00"/>
<path d="M381.65 347.03h16.94" stroke="#079207"/>
<path d="M398.54 347.03h16.94" stroke="#0ee40e"/>
<path d="M415.43 347.03h16.94" stroke="#011e01"/>
<path d="M432.32 347.03h16.94" stroke="#011e01"/>
<path d="M449.22 347.03h16.94" stroke="#960000"/>
<path d="M466.11 347.03h16.94" stroke="#600000"/>
<path d="M280.30 353.25h16.94" stroke="#e40000"/>
<path d="M297.19 353.25h16.94" stroke="#2d0000"/>
<path d="M314.08 353.25h16.94" stroke="#2d0000"/>
<path d="M330.98 353.25h16.94" stroke="#011e01"/>
<path d="M347.87 353.25h16.94" stroke="#000000"/>
<path d="M364.76 353.25h16.94" stroke="#600000"/>
<path d="M381.65 353.25h16.94" stroke="#057805"/>
<path d="M398.54 353.25h16.94" stroke="#079207"/>
<path d="M415.43 353.25h16.94" stroke="#0bc80b"/>
<path d="M432.32 353.25h16.94" stroke="#600000"/>
<path d="M449.22 353.25h16.94" stroke="#011e01"/>
<path d="M466.11 353.25h16.94" stroke="#600000"/>
<path d="M280.30 359.47h16.94" stroke="#600000"/>
<path d="M297.19 359.47h16.94" stroke="#046004"/>
<path d="M314.08 359.47h16.94" stroke="#2d0000"/>
<path d="M330.98 359.47h16.94" stroke="#024902"/>
<path d="M347.87 359.47h16.94" stroke="#000000"/>
<path d="M364.76 359.47h16.94" stroke="#600000"/>
<path d="M381.65 359.47h16.94" stroke="#057805"/>
<path d="M398.54 359.47h16.94" stroke="#024902"/>
<path d="M415.43 359.47h16.94" stroke="#0bc80b"/>
<path d="M432.32 359.47h16.94" stroke="#460000"/>
<path d="M449.22 359.47h16.94" stroke="#2d0000"/>
<path d="M466.11 359.47h16.94" stroke="#e40000"/>
<path d="M280.30 365.69h16.94" stroke="#960000"/>
<path d="M297.19 365.69h16.94" stroke="#000000"/>
<path d="M314.08 365.69h16.94" stroke="#013301"/>
<path d="M330.98 365.69h16.94" stroke="#7a0000"/>
<path d="M347.87 365.69h16.94" stroke="#013301"/>
<path d="M364.76 365.69h16.94" stroke="#2d0000"/>
<path d="M381.65 365.69h16.94" stroke="#057805"/>
<path d="M398.54 365.69h16.94" stroke="#0ee40e"/>
<path d="M415.43 365.69h16.94" stroke="#079207"/>
<path d="M432.32 365.69h16.94" stroke="#7a0000"/>
<path d="M449.22 365.69h16.94" stroke="#960000"/>
<path d="M466.11 365.69h16.94" stroke="#600000"/>
<path d="M280.30 371.91h16.94" stroke="#011e01"/>
<path d="M297.19 371.91h16.94" stroke="#460000"/>
<path d="M314.08 371.91h16.94" stroke="#046004"/>
<path d="M330.98 371.91h16.94" stroke="#7a0000"/>
<path d="M347.87 371.91h16.94" stroke="#2d0000"/>
<path d="M364.76 371.91h16.94" stroke="#000000"/>
<path d="M381.65 371.91h16.94" stroke="#150000"/>
<path d="M398.54 371.91h16.94" stroke="#079207"/>
<path d="M415.43 371.91h16.94" stroke="#09ad09"/>
<path d="M432.32 371.91h16.94" stroke="#2d0000"/>
<path d="M449.22 371.91h16.94" stroke="#2d0000"/>
<path d="M466.11 371.91h16.94" stroke="#e40000"/>
<path d="M280.30 378.13h16.94" stroke="#000000"/>
<path d="M297.19 378.13h16.94" stroke="#2d0000"/>
<path d="M314.08 378.13h16.94" stroke="#e40000"/>
<path d="M330.98 378.13h16.94" stroke="#09ad09"/>
<path d="M347.87 378.13h16.94" stroke="#011e01"/>
<path d="M364.76 378.13h16.94" stroke="#011e01"/>
<path d="M381.65 378.13h16.94" stroke="#013301"/>
<path d="M398.54 378.13h16.94" stroke="#150000"/>
<path d="M415.43 378.13h16.94" stroke="#024902"/>
<path d="M432.32 378.13h16.94" stroke="#000000"/>
<path d="M449.22 378.13h16.94" stroke="#011e01"/>
<path d="M466.11 378.13h16.94" stroke="#460000"/>
<path d="M280.30 384.35h16.94" stroke="#150000"/>
<path d="M297.19 384.35h16.94" stroke="#150000"/>
<path d="M314.08 384.35h16.94" stroke="#024902"/>
<path d="M330.98 384.35h16.94" stroke="#b10000"/>
<path d="M347.87 384.35h16.94" stroke="#b10000"/>
<path d="M364.76 384.35h16.94" stroke="#960000"/>
<path d="M381.65 384.35h16.94" stroke="#013301"/>
<path d="M398.54 384.35h16.94" stroke="#460000"/>
<path d="M415.43 384.35h16.94" stroke="#046004"/>
<path d="M432.32 384.35h16.94" stroke="#046004"/>
<path d="M449.22 384.35h16.94" stroke="#09ad09"/>
<path d="M466.11 384.35h16.94" stroke="#057805"/>
<path d="M280.30 390.57h16.94" stroke="#046004"/>
<path d="M297.19 390.57h16.94" stroke="#600000"/>
<path d="M314.08 390.57h16.94" stroke="#2d0000"/>
<path d="M330.98 390.57h16.94" stroke="#b10000"/>
<path d="M347.87 390.57h16.94" stroke="#600000"/>
<path d="M364.76 390.57h16.94" stroke="#600000"/>
<path d="M381.65 390.57h16.94" stroke="#000000"/>
<path d="M398.54 390.57h16.94" stroke="#2d0000"/>
<path d="M415.43 390.57h16.94" stroke="#150000"/>
<path d="M432.32 390.57h16.94" stroke="#057805"/>
<path d="M449.22 390.57h16.94" stroke="#09ad09"/>
<path d="M466.11 390.57h16.94" stroke="#0bc80b"/>
<path d="M280.30 396.79h16.94" stroke="#013301"/>
<path d="M297.19 396.79h16.94" stroke="#150000"/>
<path d="M314.08 396.79h16.94" stroke="#013301"/>
<path d="M330.98 396.79h16.94" stroke="#2d0000"/>
<path d="M347.87 396.79h16.94" stroke="#e40000"/>
<path d="M364.76 396.79h16.94" stroke="#460000"/>
<path d="M381.65 396.79h16.94" stroke="#057805"/>
<path d="M398.54 396.79h16.94" stroke="#2d0000"/>
<path d="M415.43 396.79h16.94" stroke="#2d0000"/>
<path d="M432.32 396.79h16.94" stroke="#024902"/>
<path d="M449.22 396.79h16.94" stroke="#150000"/>
<path d="M466.11 396.79h16.94" stroke="#079207"/>
<path d="M280.30 403.01h16.94" stroke="#000000"/>
<path d="M297.19 403.01h16.94" stroke="#013301"/>
<path d="M314.08 403.01h16.94" stroke="#046004"/>
<path d="M330.98 403.01h16.94" stroke="#150000"/>
<path d="M347.87 403.01h16.94" stroke="#150000"/>
<path d="M364.76 403.01h16.94" stroke="#600000"/>
<path d="M381.65 403.01h16.94" stroke="#600000"/>
<path d="M398.54 403.01h16.94" stroke="#cd0000"/>
<path d="M415.43 403.01h16.94" stroke="#000d00"/>
<path d="M432.32 403.01h16.94" stroke="#057805"/>
<path d="M449.22 403.01h16.94" stroke="#0bc80b"/>
<path d="M466.11 403.01h16.94" stroke="#000000"/>
<path d="M280.30 409.23h16.94" stroke="#460000"/>
<path d="M297.19 409.23h16.94" stroke="#079207"/>
<path d="M314.08 409.23h16.94" stroke="#000000"/>
<path d="M330.98 409.23h16.94" stroke="#150000"/>
<path d="M347.87 409.23h16.94" stroke="#000000"/>
<path d="M364.76 409.23h16.94" stroke="#2d0000"/>
<path d="M381.65 409.23h16.94" stroke="#000000"/>
<path d="M398.54 409.23h16.94" stroke="#e40000"/>
<path d="M415.43 409.23h16.94" stroke="#011e01"/>
<path d="M432.32 409.23h16.94" stroke="#046004"/>
<path d="M449.22 409.23h16.94" stroke="#09ad09"/>
<path d="M466.11 409.23h16.94" stroke="#046004"/>
<path d="M280.30 415.45h16.94" stroke="#e40000"/>
<path d="M297.19 415.45h16.94" stroke="#7a0000"/>
<path d="M314.08 415.45h16.94" stroke="#000000"/>
<path d="M330.98 415.45h16.94" stroke="#2d0000"/>
<path d="M347.87 415.45h16.94" stroke="#011e01"/>
<path d="M364.76 415.45h16.94" stroke="#024902"/>
<path d="M381.65 415.45h16.94" stroke="#2d0000"/>
<path d="M398.54 415.45h16.94" stroke="#2d0000"/>
<path d="M415.43 415.45h16.94" stroke="#150000"/>
<path d="M432.32 415.45h16.94" stroke="#024902"/>
<path d="M449.22 415.45h16.94" stroke="#09ad09"/>
<path d="M466.11 415.45h16.94" stroke="#079207"/>
<path d="M280.30 421.67h16.94" stroke="#7a0000"/>
<path d="M297.19 421.67h16.94" stroke="#000000"/>
<path d="M314.08 421.67h16.94" stroke="#013301"/>
<path d="M330.98 421.67h16.94" stroke="#000000"/>
<path d="M347.87 421.67h16.94" stroke="#600000"/>
<path d="M364.76 421.67h16.94" stroke="#057805"/>
<path d="M381.65 421.67h16.94" stroke="#7a0000"/>
<path d="M398.54 421.67h16.94" stroke="#7a0000"/>
<path d="M415.43 421.67h16.94" stroke="#7a0000"/>
<path d="M432.32 421.67h16.94" stroke="#000000"/>
<path d="M449.22 421.67h16.94" stroke="#09ad09"/>
<path d="M466.11 421.67h16.94" stroke="#09ad09"/>
<path d="M280.30 427.89h16.94" stroke="#e40000"/>
<path d="M297.19 427.89h16.94" stroke="#960000"/>
<path d="M314.08 427.89h16.94" stroke="#000000"/>
<path d="M330.98 427.89h16.94" stroke="#024902"/>
<path d="M347.87 427.89h16.94" stroke="#150000"/>
<path d="M364.76 427.89h16.94" stroke="#011e01"/>
<path d="M381.65 427.89h16.94" stroke="#0ee40e"/>
<path d="M398.54 427.89h16.94" stroke="#2d0000"/>
<path d="M415.43 427.89h16.94" stroke="#460000"/>
<path d="M432.32 427.89h16.94" stroke="#046004"/>
<path d="M449.22 427.89h16.94" stroke="#2d0000"/>
<path d="M466.11 427.89h16.94" stroke="#046004"/>
</g>
<g class="g" text-rendering="geometricPrecision" transform="translate(487.2 0) scale(0.925 1)" stroke="#000" stroke-width="0.3">
<text x="0" y="69.06">Brwd1</text>
<text x="0" y="75.28">Cdc42bpa</text>
<text x="0" y="81.50">Enah</text>
<text x="0" y="87.72">Arrdc3</text>
<text x="0" y="93.94">Cbx6</text>
<text x="0" y="100.16">Atp2b4</text>
<text x="0" y="106.38">Map4k4</text>
<text x="0" y="112.60">Nfat5</text>
<text x="0" y="118.82">Atp2b4</text>
<text x="0" y="125.04">Trst4</text>
<text x="0" y="131.26">Akap13</text>
<text x="0" y="137.48">Tmem132a</text>
<text x="0" y="143.70">Trafd1</text>
<text x="0" y="149.92">Mafg</text>
<text x="0" y="156.14">Pik3r1</text>
<text x="0" y="162.37">Brwd3</text>
<text x="0" y="168.59">Ammecr1l</text>
<text x="0" y="174.81">Emid1</text>
<text x="0" y="181.03">Ccdc28b</text>
<text x="0" y="187.25">Vamp3</text>
<text x="0" y="193.47">Prkg1</text>
<text x="0" y="199.69">Rod1</text>
<text x="0" y="205.91">Tram2</text>
<text x="0" y="212.13">Lasp1</text>
<text x="0" y="218.35">Fem1b</text>
<text x="0" y="224.57">Metap2</text>
<text x="0" y="230.79">Appbp2</text>
<text x="0" y="237.01">Dnmt3a</text>
<text x="0" y="243.23">Dgs2</text>
<text x="0" y="249.45">Chic2</text>
<text x="0" y="255.67">Ccdc28b</text>
<text x="0" y="261.89">Ss18l1</text>
<text x="0" y="268.11">Rif</text>
<text x="0" y="274.33">Mybl2</text>
<text x="0" y="280.55">Palm</text>
<text x="0" y="286.77">Kctd20</text>
<text x="0" y="292.99">Nasp</text>
<text x="0" y="299.21">Dgkd</text>
<text x="0" y="305.43">Diablo</text>
<text x="0" y="311.65">Spast</text>
<text x="0" y="317.87">Cdc7</text>
<text x="0" y="324.09">Clk2</text>
<text x="0" y="330.31">Kdelc1</text>
<text x="0" y="336.53">Nasp</text>
<text x="0" y="342.76">Nasp</text>
<text x="0" y="348.98">Ywhae</text>
<text x="0" y="355.20">Calm3</text>
<text x="0" y="361.42">Larp4</text>
<text x="0" y="367.64">Nasp</text>
<text x="0" y="373.86">Chmp6</text>
<text x="0" y="380.08">Lpl</text>
<text x="0" y="386.30">Lsm14b</text>
<text x="0" y="392.52">Erd5</text>
<text x="0" y="398.74">Rif</text>
<text x="0" y="404.96">Zmym2</text>
<text x="0" y="411.18">Ctdspl2</text>
<text x="0" y="417.40">Trib2</text>
<text x="0" y="423.62">Erlin2</text>
<text x="0" y="429.84">Tmem183a</text>
</g>
<path class="ln" stroke="#222" stroke-width="0.75" d="M280.3 67.1H277.0V73.3H280.3M277.0 70.2H276.2V79.6H280.3M276.2 74.9H275.3V85.8H280.3M280.3 92.0H277.4V98.2H280.3M275.3 80.3H272.7V95.1H277.4M280.3 104.4H273.8V110.7H280.3M272.7 87.7H268.9V107.5H273.8M280.3 116.9H276.0V123.1H280.3M268.9 97.6H264.7V120.0H276.0M280.3 129.3H277.0V135.5H280.3M277.0 132.4H275.8V141.8H280.3M275.8 137.1H274.6V148.0H280.3M280.3 154.2H273.8V160.4H280.3M274.6 142.5H270.5V157.3H273.8M264.7 108.8H263.0V149.9H270.5M280.3 166.6H273.1V172.9H280.3M263.0 129.4H261.2V169.7H273.1M280.3 179.1H276.0V185.3H280.3M276.0 182.2H273.8V191.5H280.3M280.3 197.7H273.1V204.0H280.3M273.8 186.9H270.3V200.8H273.1M280.3 210.2H273.8V216.4H280.3M273.8 213.3H270.3V222.6H280.3M270.3 193.8H268.0V218.0H270.3M280.3 235.1H270.3V241.3H280.3M270.3 238.2H267.5V247.5H280.3M280.3 228.8H266.0V242.8H267.5M268.0 205.9H264.7V235.8H266.0M280.3 253.7H270.3V259.9H280.3M264.7 220.9H262.0V256.8H270.3M261.2 149.6H259.0V238.8H262.0M280.3 266.2H277.6V272.4H280.3M277.6 269.3H276.6V278.6H280.3M276.6 273.9H275.6V284.8H280.3M280.3 291.0H273.4V297.3H280.3M275.6 279.4H274.6V294.2H273.4M274.6 286.8H273.6V303.5H280.3M280.3 309.7H272.5V315.9H280.3M273.6 295.1H272.6V312.8H272.5M272.6 304.0H271.5V322.1H280.3M280.3 328.4H271.6V334.6H280.3M271.5 313.1H270.5V331.5H271.6M270.5 322.3H269.5V340.8H280.3M269.5 331.5H268.5V347.0H280.3M280.3 353.2H270.2V359.5H280.3M268.5 339.3H267.5V356.4H270.2M267.5 347.8H266.5V365.7H280.3M266.5 356.8H262.6V371.9H280.3M262.6 364.3H259.0V378.1H280.3M280.3 384.3H273.1V390.6H280.3M273.1 387.5H269.6V396.8H280.3M280.3 403.0H274.5V409.2H280.3M269.6 392.1H264.7V406.1H274.5M280.3 415.4H271.7V421.7H280.3M271.7 418.6H262.6V427.9H280.3M264.7 399.1H258.3V423.2H262.6M259.0 364.6H251.3V411.2H258.3M259.0 196.5H246.8V388.3H251.3"/>
<rect x="281.3" y="434.5" width="44.6" height="3.5" fill="#8c8c8c"/>
<rect x="332.5" y="434.5" width="44.7" height="3.5" fill="#8c8c8c"/>
<rect x="384.4" y="433.9" width="44.4" height="3.5" fill="#8c8c8c"/>
<rect x="436.2" y="433.9" width="44.4" height="3.5" fill="#8c8c8c"/>
<text class="dj" font-size="10.1" x="284.3" y="450.8" textLength="38.4" lengthAdjust="spacingAndGlyphs" stroke="#000" stroke-width="0.5">KO Prog</text>
<text class="dj" font-size="10.1" x="335.4" y="450.8" textLength="41.1" lengthAdjust="spacingAndGlyphs" stroke="#000" stroke-width="0.5">WT Prog</text>
<text class="dj" font-size="10.1" x="387.4" y="449.9" textLength="39.8" lengthAdjust="spacingAndGlyphs" stroke="#000" stroke-width="0.5">WT HSC</text>
<text class="dj" font-size="10.1" x="439.4" y="449.9" textLength="37.1" lengthAdjust="spacingAndGlyphs" stroke="#000" stroke-width="0.5">KO HSC</text>
<g>
<rect x="67.38" y="604.40" width="17.25" height="52.60" fill="#bebebe" stroke="#000" stroke-width="1.35"/>
<rect x="88.00" y="599.40" width="17.25" height="57.60" fill="#bebebe" stroke="#000" stroke-width="1.35"/>
<rect x="108.63" y="595.15" width="17.25" height="61.85" fill="#bebebe" stroke="#000" stroke-width="1.35"/>
<rect x="129.26" y="593.65" width="17.25" height="63.35" fill="#bebebe" stroke="#000" stroke-width="1.35"/>
<rect x="149.89" y="588.15" width="17.25" height="68.85" fill="#bebebe" stroke="#000" stroke-width="1.35"/>
<rect x="170.52" y="585.15" width="17.25" height="71.85" fill="#bebebe" stroke="#000" stroke-width="1.35"/>
<rect x="191.16" y="572.75" width="17.25" height="84.25" fill="#bebebe" stroke="#000" stroke-width="1.35"/>
<rect x="211.78" y="570.15" width="17.25" height="86.85" fill="#bebebe" stroke="#000" stroke-width="1.35"/>
<rect x="232.41" y="552.95" width="17.25" height="104.05" fill="#bebebe" stroke="#000" stroke-width="1.35"/>
<rect x="253.04" y="532.75" width="17.25" height="124.25" fill="#bebebe" stroke="#000" stroke-width="1.35"/>
<path class="ln" stroke-width="1.25" d="M76.00 596.90V610.90M70.10 596.90H81.90M70.10 610.90H81.90"/>
<path class="ln" stroke-width="1.25" d="M96.63 596.80V601.00M90.73 596.80H102.53M90.73 601.00H102.53"/>
<path class="ln" stroke-width="1.25" d="M117.26 592.85V596.45M111.36 592.85H123.16M111.36 596.45H123.16"/>
<path class="ln" stroke-width="1.25" d="M137.89 591.35V594.95M131.99 591.35H143.79M131.99 594.95H143.79"/>
<path class="ln" stroke-width="1.25" d="M158.52 584.85V590.45M152.62 584.85H164.42M152.62 590.45H164.42"/>
<path class="ln" stroke-width="1.25" d="M179.15 580.65V588.65M173.25 580.65H185.05M173.25 588.65H185.05"/>
<path class="ln" stroke-width="1.25" d="M199.78 567.45V577.05M193.88 567.45H205.68M193.88 577.05H205.68"/>
<path class="ln" stroke-width="1.25" d="M220.41 563.45V575.85M214.51 563.45H226.31M214.51 575.85H226.31"/>
<path class="ln" stroke-width="1.25" d="M241.04 547.45V557.45M235.14 547.45H246.94M235.14 557.45H246.94"/>
<path class="ln" stroke-width="1.5" stroke-dasharray="2.1 2.8" d="M76.3 575.50H262.5"/>
<path class="ln" stroke-width="1.5" stroke-dasharray="2.1 2.8" d="M76.3 616.25H262.5"/>
<path class="ln" stroke-width="1.5" stroke-dasharray="2.1 2.8" d="M76.3 636.62H262.5"/>
<path class="ln" stroke-width="1.5" d="M61.25 657.70V493.30"/>
<path class="ln" stroke-width="1.4" d="M53.50 657.00H61.25"/>
<text font-size="13.8" text-anchor="middle" stroke="#000" stroke-width="0.3" transform="translate(47.25 656.60) rotate(-90)">0</text>
<path class="ln" stroke-width="1.4" d="M53.50 616.25H61.25"/>
<text font-size="13.8" text-anchor="middle" stroke="#000" stroke-width="0.3" transform="translate(47.25 615.85) rotate(-90)">1</text>
<path class="ln" stroke-width="1.4" d="M53.50 575.50H61.25"/>
<text font-size="13.8" text-anchor="middle" stroke="#000" stroke-width="0.3" transform="translate(47.25 575.10) rotate(-90)">2</text>
<path class="ln" stroke-width="1.4" d="M53.50 534.75H61.25"/>
<text font-size="13.8" text-anchor="middle" stroke="#000" stroke-width="0.3" transform="translate(47.25 534.35) rotate(-90)">3</text>
<path class="ln" stroke-width="1.4" d="M53.50 494.00H61.25"/>
<text font-size="13.8" text-anchor="middle" stroke="#000" stroke-width="0.3" transform="translate(47.25 493.60) rotate(-90)">4</text>
<text font-size="13.8" text-anchor="middle" stroke="#000" stroke-width="0.3" transform="translate(25.60 575.20) rotate(-90)" textLength="71.6" lengthAdjust="spacingAndGlyphs">Fold Change</text>
<text font-size="13.8" text-anchor="end" stroke="#000" stroke-width="0.3" transform="translate(80.00 662.20) rotate(-90)" textLength="21.7" lengthAdjust="spacingAndGlyphs">Sp1</text>
<text font-size="13.8" text-anchor="end" stroke="#000" stroke-width="0.3" transform="translate(100.75 662.20) rotate(-90)" textLength="46.5" lengthAdjust="spacingAndGlyphs">Dnmt3b</text>
<text font-size="13.8" text-anchor="end" stroke="#000" stroke-width="0.3" transform="translate(121.50 662.20) rotate(-90)" textLength="23.2" lengthAdjust="spacingAndGlyphs">Tet1</text>
<text font-size="13.8" text-anchor="end" stroke="#000" stroke-width="0.3" transform="translate(142.25 662.20) rotate(-90)" textLength="25.8" lengthAdjust="spacingAndGlyphs">Pten</text>
<text font-size="13.8" text-anchor="end" stroke="#000" stroke-width="0.3" transform="translate(163.00 662.20) rotate(-90)" textLength="46.5" lengthAdjust="spacingAndGlyphs">Dnmt3a</text>
<text font-size="13.8" text-anchor="end" stroke="#000" stroke-width="0.3" transform="translate(183.75 662.20) rotate(-90)" textLength="40.6" lengthAdjust="spacingAndGlyphs">Notch2</text>
<text font-size="13.8" text-anchor="end" stroke="#000" stroke-width="0.3" transform="translate(204.50 662.20) rotate(-90)" textLength="40.6" lengthAdjust="spacingAndGlyphs">Smpd3</text>
<text font-size="13.8" text-anchor="end" stroke="#000" stroke-width="0.3" transform="translate(225.25 662.20) rotate(-90)" textLength="29.6" lengthAdjust="spacingAndGlyphs">Hbp1</text>
<text font-size="13.8" text-anchor="end" stroke="#000" stroke-width="0.3" transform="translate(246.00 662.20) rotate(-90)" textLength="22.6" lengthAdjust="spacingAndGlyphs">Tcl1</text>
<text font-size="13.8" text-anchor="end" stroke="#000" stroke-width="0.3" transform="translate(266.75 662.20) rotate(-90)" textLength="28.9" lengthAdjust="spacingAndGlyphs">Cdk6</text>
</g>
<g>
<rect x="341.20" y="646.30" width="22.30" height="16.70" fill="#bebebe" stroke="#000" stroke-width="1.35"/>
<rect x="371.37" y="643.00" width="22.30" height="20.00" fill="#bebebe" stroke="#000" stroke-width="1.35"/>
<rect x="401.54" y="600.30" width="22.30" height="62.70" fill="#bebebe" stroke="#000" stroke-width="1.35"/>
<rect x="431.71" y="580.20" width="22.30" height="82.80" fill="#bebebe" stroke="#000" stroke-width="1.35"/>
<rect x="461.88" y="563.70" width="22.30" height="99.30" fill="#bebebe" stroke="#000" stroke-width="1.35"/>
<rect x="492.05" y="554.60" width="22.30" height="108.40" fill="#bebebe" stroke="#000" stroke-width="1.35"/>
<path class="ln" stroke-width="1.25" d="M382.52 639.20V645.80M374.12 639.20H390.92M374.12 645.80H390.92"/>
<path class="ln" stroke-width="1.25" d="M412.69 598.20V601.40M404.29 598.20H421.09M404.29 601.40H421.09"/>
<path class="ln" stroke-width="1.25" d="M442.86 578.90V580.50M434.46 578.90H451.26M434.46 580.50H451.26"/>
<path class="ln" stroke-width="1.25" d="M473.03 561.90V564.50M464.63 561.90H481.43M464.63 564.50H481.43"/>
<path class="ln" stroke-width="1.25" d="M503.20 547.50V560.70M494.80 547.50H511.60M494.80 560.70H511.60"/>
<path class="ln" stroke-width="1.5" stroke-dasharray="2.1 2.8" d="M348.5 581.50H509.0"/>
<path class="ln" stroke-width="1.5" stroke-dasharray="2.1 2.8" d="M348.5 622.25H509.0"/>
<path class="ln" stroke-width="1.5" stroke-dasharray="2.1 2.8" d="M348.5 642.62H509.0"/>
<path class="ln" stroke-width="1.5" d="M331.50 663.70V499.30"/>
<path class="ln" stroke-width="1.4" d="M323.30 663.00H331.50"/>
<text font-size="13.8" text-anchor="middle" stroke="#000" stroke-width="0.3" transform="translate(317.25 662.60) rotate(-90)">0</text>
<path class="ln" stroke-width="1.4" d="M323.30 622.25H331.50"/>
<text font-size="13.8" text-anchor="middle" stroke="#000" stroke-width="0.3" transform="translate(317.25 621.85) rotate(-90)">1</text>
<path class="ln" stroke-width="1.4" d="M323.30 581.50H331.50"/>
<text font-size="13.8" text-anchor="middle" stroke="#000" stroke-width="0.3" transform="translate(317.25 581.10) rotate(-90)">2</text>
<path class="ln" stroke-width="1.4" d="M323.30 540.75H331.50"/>
<text font-size="13.8" text-anchor="middle" stroke="#000" stroke-width="0.3" transform="translate(317.25 540.35) rotate(-90)">3</text>
<path class="ln" stroke-width="1.4" d="M323.30 500.00H331.50"/>
<text font-size="13.8" text-anchor="middle" stroke="#000" stroke-width="0.3" transform="translate(317.25 499.60) rotate(-90)">4</text>
<text font-size="13.8" text-anchor="middle" stroke="#000" stroke-width="0.3" transform="translate(298.60 581.80) rotate(-90)" textLength="71.6" lengthAdjust="spacingAndGlyphs">Fold Change</text>
<text font-size="13.8" text-anchor="end" stroke="#000" stroke-width="0.3" transform="translate(356.30 669.80) rotate(-90)" textLength="21.5" lengthAdjust="spacingAndGlyphs">P27</text>
<text font-size="13.8" text-anchor="end" stroke="#000" stroke-width="0.3" transform="translate(387.15 669.80) rotate(-90)" textLength="21.5" lengthAdjust="spacingAndGlyphs">P57</text>
<text font-size="13.8" text-anchor="end" stroke="#000" stroke-width="0.3" transform="translate(418.00 669.80) rotate(-90)" textLength="20.9" lengthAdjust="spacingAndGlyphs">P21</text>
<text font-size="13.8" text-anchor="end" stroke="#000" stroke-width="0.3" transform="translate(448.85 669.80) rotate(-90)" textLength="29.8" lengthAdjust="spacingAndGlyphs">Bmi1</text>
<text font-size="13.8" text-anchor="end" stroke="#000" stroke-width="0.3" transform="translate(479.70 669.80) rotate(-90)" textLength="35.1" lengthAdjust="spacingAndGlyphs">Gata2</text>
<text font-size="13.8" text-anchor="end" stroke="#000" stroke-width="0.3" transform="translate(510.55 669.80) rotate(-90)" textLength="29.4" lengthAdjust="spacingAndGlyphs">TP53</text>
</g>
</svg></body></html>
